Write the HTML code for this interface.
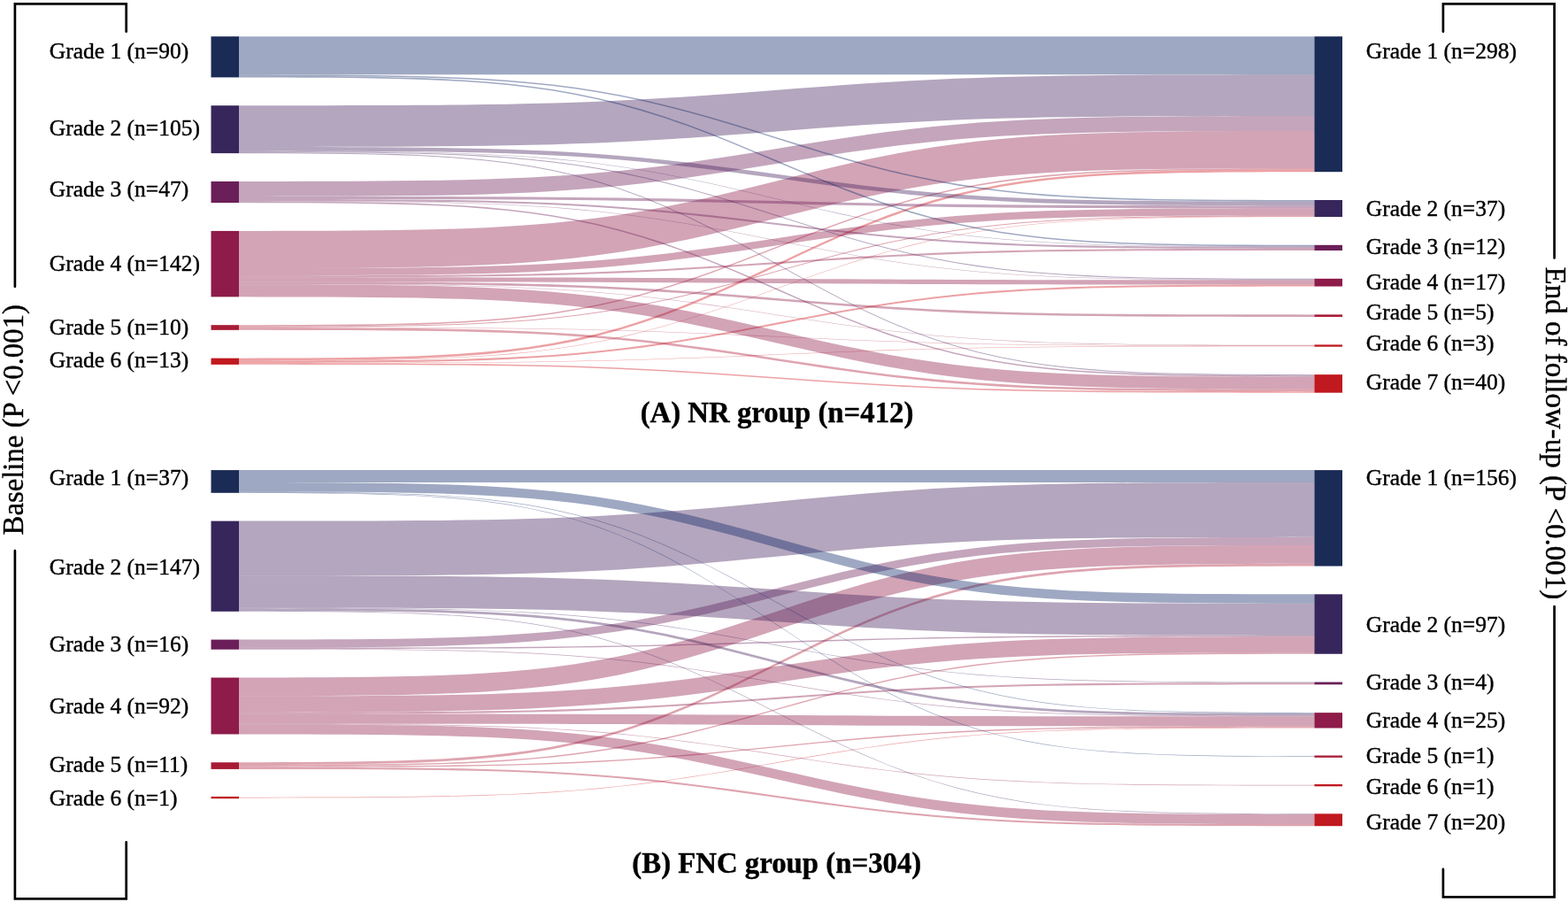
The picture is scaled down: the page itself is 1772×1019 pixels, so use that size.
<!DOCTYPE html>
<html lang="en">
<head>
<meta charset="utf-8">
<title>Sankey diagram: grade transitions, NR and FNC groups</title>
<style>
html,body{margin:0;padding:0;background:#fff;}
body{width:1772px;height:1019px;overflow:hidden;}
svg{display:block;}
text{font-family:"Liberation Serif",serif;fill:#000;stroke:#000;stroke-width:0.4px;stroke-linejoin:round;}
.lab text{font-size:25.5px;}
.ttl{font-size:32.8px;font-weight:bold;}
.vt{font-size:32.5px;}
</style>
</head>
<body>
<svg width="1772" height="1019" viewBox="0 0 1772 1019">
<rect width="1772" height="1019" fill="#fff"/>
<!-- panel A -->
<g fill-opacity="0.4" stroke="none">
<path d="M270,410.31L295.32,410.32L320.64,410.33L345.96,410.35L371.28,410.38L396.6,410.42L421.93,410.48L447.25,410.56L472.57,410.69L497.89,410.85L523.21,411.07L548.53,411.37L573.85,411.75L599.17,412.23L624.49,412.83L649.81,413.57L675.13,414.44L700.45,415.47L725.78,416.64L751.1,417.97L776.42,419.43L801.74,421.01L827.06,422.69L852.38,424.44L877.7,426.22L903.02,428.01L928.34,429.76L953.66,431.44L978.98,433.02L1004.3,434.48L1029.62,435.81L1054.95,436.98L1080.27,438.01L1105.59,438.88L1130.91,439.62L1156.23,440.22L1181.55,440.7L1206.87,441.08L1232.19,441.38L1257.51,441.6L1282.83,441.76L1308.15,441.89L1333.48,441.97L1358.8,442.03L1384.12,442.07L1409.44,442.1L1434.76,442.12L1460.08,442.13L1485.4,442.14L1485.4,443.68L1460.08,443.67L1434.76,443.66L1409.44,443.64L1384.12,443.61L1358.8,443.57L1333.48,443.51L1308.15,443.43L1282.83,443.3L1257.51,443.14L1232.19,442.92L1206.87,442.62L1181.55,442.24L1156.23,441.76L1130.91,441.16L1105.59,440.42L1080.27,439.55L1054.95,438.52L1029.62,437.35L1004.3,436.02L978.98,434.56L953.66,432.98L928.34,431.3L903.02,429.55L877.7,427.77L852.38,425.98L827.06,424.23L801.74,422.55L776.42,420.97L751.1,419.51L725.78,418.18L700.45,417.01L675.13,415.98L649.81,415.11L624.49,414.37L599.17,413.77L573.85,413.29L548.53,412.91L523.21,412.61L497.89,412.39L472.57,412.23L447.25,412.1L421.93,412.02L396.6,411.96L371.28,411.92L345.96,411.89L320.64,411.87L295.32,411.86L270,411.85Z" fill="#d0151c"/>
<path d="M270,409.8L295.32,409.79L320.64,409.78L345.96,409.77L371.28,409.76L396.6,409.73L421.93,409.7L447.25,409.64L472.57,409.57L497.89,409.47L523.21,409.34L548.53,409.16L573.85,408.94L599.17,408.65L624.49,408.29L649.81,407.85L675.13,407.33L700.45,406.72L725.78,406.02L751.1,405.23L776.42,404.35L801.74,403.41L827.06,402.41L852.38,401.36L877.7,400.3L903.02,399.24L928.34,398.19L953.66,397.19L978.98,396.25L1004.3,395.37L1029.62,394.58L1054.95,393.88L1080.27,393.27L1105.59,392.75L1130.91,392.31L1156.23,391.95L1181.55,391.66L1206.87,391.43L1232.19,391.26L1257.51,391.13L1282.83,391.03L1308.15,390.95L1333.48,390.9L1358.8,390.87L1384.12,390.84L1409.44,390.83L1434.76,390.81L1460.08,390.81L1485.4,390.8L1485.4,391.32L1460.08,391.32L1434.76,391.33L1409.44,391.34L1384.12,391.36L1358.8,391.38L1333.48,391.42L1308.15,391.47L1282.83,391.54L1257.51,391.64L1232.19,391.77L1206.87,391.95L1181.55,392.18L1156.23,392.46L1130.91,392.82L1105.59,393.26L1080.27,393.78L1054.95,394.39L1029.62,395.09L1004.3,395.89L978.98,396.76L953.66,397.7L928.34,398.71L903.02,399.75L877.7,400.81L852.38,401.88L827.06,402.92L801.74,403.92L776.42,404.87L751.1,405.74L725.78,406.53L700.45,407.23L675.13,407.84L649.81,408.37L624.49,408.8L599.17,409.16L573.85,409.45L548.53,409.68L523.21,409.85L497.89,409.99L472.57,410.09L447.25,410.16L421.93,410.21L396.6,410.25L371.28,410.27L345.96,410.29L320.64,410.3L295.32,410.31L270,410.31Z" fill="#d0151c"/>
<path d="M270,407.74L295.32,407.72L320.64,407.69L345.96,407.64L371.28,407.56L396.6,407.45L421.93,407.29L447.25,407.05L472.57,406.73L497.89,406.28L523.21,405.67L548.53,404.87L573.85,403.84L599.17,402.53L624.49,400.9L649.81,398.92L675.13,396.55L700.45,393.77L725.78,390.58L751.1,386.99L776.42,383.03L801.74,378.74L827.06,374.19L852.38,369.45L877.7,364.62L903.02,359.79L928.34,355.05L953.66,350.5L978.98,346.21L1004.3,342.25L1029.62,338.65L1054.95,335.47L1080.27,332.69L1105.59,330.32L1130.91,328.34L1156.23,326.71L1181.55,325.4L1206.87,324.37L1232.19,323.57L1257.51,322.96L1282.83,322.51L1308.15,322.19L1333.48,321.95L1358.8,321.79L1384.12,321.67L1409.44,321.6L1434.76,321.55L1460.08,321.52L1485.4,321.5L1485.4,323.55L1460.08,323.57L1434.76,323.6L1409.44,323.65L1384.12,323.73L1358.8,323.84L1333.48,324L1308.15,324.24L1282.83,324.57L1257.51,325.02L1232.19,325.62L1206.87,326.42L1181.55,327.45L1156.23,328.76L1130.91,330.39L1105.59,332.37L1080.27,334.74L1054.95,337.52L1029.62,340.71L1004.3,344.3L978.98,348.26L953.66,352.55L928.34,357.11L903.02,361.84L877.7,366.67L852.38,371.5L827.06,376.24L801.74,380.79L776.42,385.08L751.1,389.05L725.78,392.64L700.45,395.83L675.13,398.6L649.81,400.97L624.49,402.96L599.17,404.58L573.85,405.89L548.53,406.93L523.21,407.72L497.89,408.33L472.57,408.78L447.25,409.11L421.93,409.34L396.6,409.51L371.28,409.62L345.96,409.69L320.64,409.74L295.32,409.78L270,409.8Z" fill="#d0151c"/>
<path d="M270,407.23L295.32,407.19L320.64,407.13L345.96,407.04L371.28,406.89L396.6,406.68L421.93,406.37L447.25,405.93L472.57,405.31L497.89,404.46L523.21,403.32L548.53,401.81L573.85,399.86L599.17,397.39L624.49,394.32L649.81,390.58L675.13,386.11L700.45,380.87L725.78,374.85L751.1,368.08L776.42,360.6L801.74,352.5L827.06,343.91L852.38,334.97L877.7,325.86L903.02,316.74L928.34,307.81L953.66,299.22L978.98,291.12L1004.3,283.64L1029.62,276.87L1054.95,270.85L1080.27,265.61L1105.59,261.14L1130.91,257.4L1156.23,254.32L1181.55,251.85L1206.87,249.91L1232.19,248.4L1257.51,247.26L1282.83,246.41L1308.15,245.79L1333.48,245.35L1358.8,245.04L1384.12,244.83L1409.44,244.68L1434.76,244.59L1460.08,244.53L1485.4,244.49L1485.4,245L1460.08,245.04L1434.76,245.1L1409.44,245.2L1384.12,245.34L1358.8,245.55L1333.48,245.86L1308.15,246.3L1282.83,246.92L1257.51,247.77L1232.19,248.91L1206.87,250.42L1181.55,252.37L1156.23,254.84L1130.91,257.91L1105.59,261.65L1080.27,266.12L1054.95,271.36L1029.62,277.38L1004.3,284.15L978.98,291.63L953.66,299.73L928.34,308.32L903.02,317.26L877.7,326.37L852.38,335.49L827.06,344.43L801.74,353.02L776.42,361.11L751.1,368.59L725.78,375.37L700.45,381.38L675.13,386.62L649.81,391.09L624.49,394.84L599.17,397.91L573.85,400.38L548.53,402.33L523.21,403.83L497.89,404.97L472.57,405.82L447.25,406.44L421.93,406.88L396.6,407.19L371.28,407.41L345.96,407.55L320.64,407.64L295.32,407.7L270,407.74Z" fill="#d0151c"/>
<path d="M270,404.66L295.32,404.61L320.64,404.53L345.96,404.41L371.28,404.22L396.6,403.94L421.93,403.54L447.25,402.96L472.57,402.15L497.89,401.04L523.21,399.54L548.53,397.57L573.85,395.02L599.17,391.79L624.49,387.77L649.81,382.87L675.13,377.01L700.45,370.15L725.78,362.28L751.1,353.41L776.42,343.62L801.74,333.02L827.06,321.77L852.38,310.07L877.7,298.14L903.02,286.2L928.34,274.5L953.66,263.26L978.98,252.66L1004.3,242.87L1029.62,234L1054.95,226.12L1080.27,219.26L1105.59,213.41L1130.91,208.51L1156.23,204.49L1181.55,201.25L1206.87,198.7L1232.19,196.73L1257.51,195.24L1282.83,194.12L1308.15,193.32L1333.48,192.74L1358.8,192.33L1384.12,192.05L1409.44,191.87L1434.76,191.74L1460.08,191.66L1485.4,191.61L1485.4,194.18L1460.08,194.23L1434.76,194.31L1409.44,194.43L1384.12,194.62L1358.8,194.9L1333.48,195.3L1308.15,195.88L1282.83,196.69L1257.51,197.8L1232.19,199.3L1206.87,201.27L1181.55,203.82L1156.23,207.05L1130.91,211.08L1105.59,215.97L1080.27,221.83L1054.95,228.69L1029.62,236.56L1004.3,245.43L978.98,255.23L953.66,265.82L928.34,277.07L903.02,288.77L877.7,300.7L852.38,312.64L827.06,324.34L801.74,335.58L776.42,346.18L751.1,355.97L725.78,364.84L700.45,372.72L675.13,379.58L649.81,385.43L624.49,390.33L599.17,394.35L573.85,397.59L548.53,400.14L523.21,402.11L497.89,403.61L472.57,404.72L447.25,405.53L421.93,406.1L396.6,406.51L371.28,406.79L345.96,406.98L320.64,407.1L295.32,407.18L270,407.23Z" fill="#d0151c"/>
<path d="M270,370.27L295.32,370.28L320.64,370.31L345.96,370.35L371.28,370.41L396.6,370.5L421.93,370.63L447.25,370.82L472.57,371.08L497.89,371.45L523.21,371.93L548.53,372.57L573.85,373.4L599.17,374.46L624.49,375.76L649.81,377.36L675.13,379.26L700.45,381.49L725.78,384.05L751.1,386.94L776.42,390.13L801.74,393.57L827.06,397.23L852.38,401.04L877.7,404.92L903.02,408.8L928.34,412.61L953.66,416.27L978.98,419.71L1004.3,422.9L1029.62,425.78L1054.95,428.35L1080.27,430.58L1105.59,432.48L1130.91,434.08L1156.23,435.38L1181.55,436.44L1206.87,437.27L1232.19,437.91L1257.51,438.39L1282.83,438.76L1308.15,439.02L1333.48,439.21L1358.8,439.34L1384.12,439.43L1409.44,439.49L1434.76,439.53L1460.08,439.56L1485.4,439.57L1485.4,442.14L1460.08,442.12L1434.76,442.1L1409.44,442.06L1384.12,442L1358.8,441.91L1333.48,441.77L1308.15,441.59L1282.83,441.32L1257.51,440.96L1232.19,440.47L1206.87,439.83L1181.55,439L1156.23,437.95L1130.91,436.64L1105.59,435.05L1080.27,433.14L1054.95,430.91L1029.62,428.35L1004.3,425.47L978.98,422.28L953.66,418.83L928.34,415.17L903.02,411.37L877.7,407.49L852.38,403.6L827.06,399.8L801.74,396.14L776.42,392.69L751.1,389.51L725.78,386.62L700.45,384.06L675.13,381.83L649.81,379.92L624.49,378.33L599.17,377.02L573.85,375.97L548.53,375.14L523.21,374.5L497.89,374.01L472.57,373.65L447.25,373.39L421.93,373.2L396.6,373.07L371.28,372.98L345.96,372.92L320.64,372.88L295.32,372.85L270,372.83Z" fill="#ac1c38"/>
<path d="M270,369.75L295.32,369.76L320.64,369.77L345.96,369.78L371.28,369.8L396.6,369.82L421.93,369.86L447.25,369.92L472.57,370L497.89,370.1L523.21,370.25L548.53,370.44L573.85,370.68L599.17,370.99L624.49,371.38L649.81,371.85L675.13,372.42L700.45,373.08L725.78,373.84L751.1,374.69L776.42,375.64L801.74,376.66L827.06,377.74L852.38,378.87L877.7,380.02L903.02,381.17L928.34,382.3L953.66,383.38L978.98,384.4L1004.3,385.35L1029.62,386.2L1054.95,386.96L1080.27,387.62L1105.59,388.19L1130.91,388.66L1156.23,389.05L1181.55,389.36L1206.87,389.61L1232.19,389.8L1257.51,389.94L1282.83,390.05L1308.15,390.13L1333.48,390.18L1358.8,390.22L1384.12,390.25L1409.44,390.26L1434.76,390.28L1460.08,390.28L1485.4,390.29L1485.4,390.8L1460.08,390.8L1434.76,390.79L1409.44,390.78L1384.12,390.76L1358.8,390.73L1333.48,390.69L1308.15,390.64L1282.83,390.56L1257.51,390.45L1232.19,390.31L1206.87,390.12L1181.55,389.87L1156.23,389.56L1130.91,389.17L1105.59,388.7L1080.27,388.14L1054.95,387.48L1029.62,386.72L1004.3,385.86L978.98,384.92L953.66,383.9L928.34,382.81L903.02,381.68L877.7,380.53L852.38,379.38L827.06,378.26L801.74,377.17L776.42,376.15L751.1,375.21L725.78,374.35L700.45,373.59L675.13,372.93L649.81,372.37L624.49,371.9L599.17,371.51L573.85,371.2L548.53,370.95L523.21,370.76L497.89,370.62L472.57,370.51L447.25,370.43L421.93,370.37L396.6,370.34L371.28,370.31L345.96,370.29L320.64,370.28L295.32,370.27L270,370.27Z" fill="#ac1c38"/>
<path d="M270,368.73L295.32,368.7L320.64,368.65L345.96,368.58L371.28,368.47L396.6,368.3L421.93,368.06L447.25,367.72L472.57,367.25L497.89,366.6L523.21,365.72L548.53,364.56L573.85,363.06L599.17,361.16L624.49,358.79L649.81,355.91L675.13,352.47L700.45,348.44L725.78,343.81L751.1,338.59L776.42,332.83L801.74,326.6L827.06,319.99L852.38,313.11L877.7,306.09L903.02,299.08L928.34,292.2L953.66,285.59L978.98,279.36L1004.3,273.6L1029.62,268.38L1054.95,263.75L1080.27,259.72L1105.59,256.28L1130.91,253.4L1156.23,251.03L1181.55,249.13L1206.87,247.63L1232.19,246.47L1257.51,245.59L1282.83,244.94L1308.15,244.46L1333.48,244.12L1358.8,243.89L1384.12,243.72L1409.44,243.61L1434.76,243.54L1460.08,243.49L1485.4,243.46L1485.4,244.49L1460.08,244.52L1434.76,244.57L1409.44,244.64L1384.12,244.75L1358.8,244.91L1333.48,245.15L1308.15,245.49L1282.83,245.97L1257.51,246.62L1232.19,247.5L1206.87,248.66L1181.55,250.16L1156.23,252.06L1130.91,254.42L1105.59,257.3L1080.27,260.75L1054.95,264.78L1029.62,269.41L1004.3,274.62L978.98,280.38L953.66,286.61L928.34,293.23L903.02,300.1L877.7,307.12L852.38,314.14L827.06,321.02L801.74,327.63L776.42,333.86L751.1,339.62L725.78,344.83L700.45,349.46L675.13,353.5L649.81,356.94L624.49,359.82L599.17,362.18L573.85,364.08L548.53,365.58L523.21,366.74L497.89,367.62L472.57,368.28L447.25,368.75L421.93,369.09L396.6,369.33L371.28,369.49L345.96,369.6L320.64,369.68L295.32,369.72L270,369.75Z" fill="#ac1c38"/>
<path d="M270,367.19L295.32,367.14L320.64,367.08L345.96,366.97L371.28,366.82L396.6,366.59L421.93,366.25L447.25,365.77L472.57,365.1L497.89,364.17L523.21,362.93L548.53,361.29L573.85,359.17L599.17,356.48L624.49,353.14L649.81,349.07L675.13,344.2L700.45,338.5L725.78,331.95L751.1,324.58L776.42,316.44L801.74,307.63L827.06,298.28L852.38,288.55L877.7,278.63L903.02,268.71L928.34,258.98L953.66,249.63L978.98,240.82L1004.3,232.68L1029.62,225.31L1054.95,218.76L1080.27,213.06L1105.59,208.19L1130.91,204.12L1156.23,200.78L1181.55,198.09L1206.87,195.97L1232.19,194.33L1257.51,193.08L1282.83,192.16L1308.15,191.49L1333.48,191.01L1358.8,190.67L1384.12,190.44L1409.44,190.28L1434.76,190.18L1460.08,190.11L1485.4,190.07L1485.4,191.61L1460.08,191.65L1434.76,191.72L1409.44,191.82L1384.12,191.98L1358.8,192.21L1333.48,192.55L1308.15,193.03L1282.83,193.7L1257.51,194.62L1232.19,195.87L1206.87,197.51L1181.55,199.63L1156.23,202.32L1130.91,205.66L1105.59,209.73L1080.27,214.6L1054.95,220.3L1029.62,226.85L1004.3,234.22L978.98,242.36L953.66,251.17L928.34,260.52L903.02,270.25L877.7,280.17L852.38,290.09L827.06,299.82L801.74,309.17L776.42,317.98L751.1,326.12L725.78,333.49L700.45,340.04L675.13,345.74L649.81,350.61L624.49,354.68L599.17,358.02L573.85,360.71L548.53,362.83L523.21,364.47L497.89,365.71L472.57,366.64L447.25,367.31L421.93,367.79L396.6,368.13L371.28,368.36L345.96,368.51L320.64,368.62L295.32,368.68L270,368.73Z" fill="#ac1c38"/>
<path d="M270,321.5L295.32,321.52L320.64,321.56L345.96,321.62L371.28,321.71L396.6,321.85L421.93,322.05L447.25,322.33L472.57,322.73L497.89,323.27L523.21,324L548.53,324.97L573.85,326.21L599.17,327.79L624.49,329.76L649.81,332.16L675.13,335.02L700.45,338.38L725.78,342.23L751.1,346.57L776.42,351.36L801.74,356.54L827.06,362.04L852.38,367.77L877.7,373.6L903.02,379.44L928.34,385.17L953.66,390.67L978.98,395.85L1004.3,400.64L1029.62,404.98L1054.95,408.83L1080.27,412.19L1105.59,415.05L1130.91,417.45L1156.23,419.41L1181.55,421L1206.87,422.24L1232.19,423.21L1257.51,423.94L1282.83,424.48L1308.15,424.88L1333.48,425.16L1358.8,425.36L1384.12,425.5L1409.44,425.59L1434.76,425.65L1460.08,425.69L1485.4,425.71L1485.4,439.57L1460.08,439.55L1434.76,439.51L1409.44,439.45L1384.12,439.36L1358.8,439.22L1333.48,439.02L1308.15,438.74L1282.83,438.34L1257.51,437.8L1232.19,437.07L1206.87,436.1L1181.55,434.86L1156.23,433.27L1130.91,431.31L1105.59,428.91L1080.27,426.05L1054.95,422.69L1029.62,418.84L1004.3,414.5L978.98,409.71L953.66,404.53L928.34,399.03L903.02,393.3L877.7,387.46L852.38,381.63L827.06,375.9L801.74,370.4L776.42,365.22L751.1,360.43L725.78,356.09L700.45,352.24L675.13,348.88L649.81,346.02L624.49,343.62L599.17,341.66L573.85,340.07L548.53,338.83L523.21,337.86L497.89,337.13L472.57,336.59L447.25,336.19L421.93,335.91L396.6,335.71L371.28,335.57L345.96,335.48L320.64,335.42L295.32,335.38L270,335.36Z" fill="#8e1b49"/>
<path d="M270,320.98L295.32,321L320.64,321.02L345.96,321.06L371.28,321.13L396.6,321.21L421.93,321.35L447.25,321.53L472.57,321.79L497.89,322.15L523.21,322.64L548.53,323.27L573.85,324.1L599.17,325.14L624.49,326.44L649.81,328.02L675.13,329.91L700.45,332.13L725.78,334.67L751.1,337.53L776.42,340.69L801.74,344.12L827.06,347.75L852.38,351.53L877.7,355.38L903.02,359.23L928.34,363.01L953.66,366.64L978.98,370.06L1004.3,373.23L1029.62,376.09L1054.95,378.63L1080.27,380.85L1105.59,382.74L1130.91,384.32L1156.23,385.62L1181.55,386.66L1206.87,387.49L1232.19,388.12L1257.51,388.61L1282.83,388.96L1308.15,389.23L1333.48,389.41L1358.8,389.54L1384.12,389.63L1409.44,389.69L1434.76,389.73L1460.08,389.76L1485.4,389.78L1485.4,390.29L1460.08,390.27L1434.76,390.25L1409.44,390.21L1384.12,390.15L1358.8,390.06L1333.48,389.93L1308.15,389.74L1282.83,389.48L1257.51,389.12L1232.19,388.64L1206.87,388L1181.55,387.18L1156.23,386.13L1130.91,384.83L1105.59,383.25L1080.27,381.36L1054.95,379.15L1029.62,376.6L1004.3,373.74L978.98,370.58L953.66,367.16L928.34,363.52L903.02,359.75L877.7,355.89L852.38,352.04L827.06,348.26L801.74,344.63L776.42,341.21L751.1,338.05L725.78,335.18L700.45,332.64L675.13,330.42L649.81,328.53L624.49,326.95L599.17,325.65L573.85,324.61L548.53,323.79L523.21,323.15L497.89,322.67L472.57,322.31L447.25,322.05L421.93,321.86L396.6,321.73L371.28,321.64L345.96,321.58L320.64,321.54L295.32,321.51L270,321.5Z" fill="#8e1b49"/>
<path d="M270,318.42L295.32,318.42L320.64,318.44L345.96,318.46L371.28,318.49L396.6,318.54L421.93,318.61L447.25,318.71L472.57,318.85L497.89,319.04L523.21,319.3L548.53,319.65L573.85,320.09L599.17,320.65L624.49,321.35L649.81,322.2L675.13,323.21L700.45,324.4L725.78,325.77L751.1,327.31L776.42,329.01L801.74,330.85L827.06,332.8L852.38,334.83L877.7,336.9L903.02,338.97L928.34,341L953.66,342.95L978.98,344.79L1004.3,346.49L1029.62,348.03L1054.95,349.39L1080.27,350.58L1105.59,351.6L1130.91,352.45L1156.23,353.15L1181.55,353.71L1206.87,354.15L1232.19,354.49L1257.51,354.75L1282.83,354.94L1308.15,355.08L1333.48,355.18L1358.8,355.25L1384.12,355.3L1409.44,355.34L1434.76,355.36L1460.08,355.37L1485.4,355.38L1485.4,357.95L1460.08,357.94L1434.76,357.92L1409.44,357.9L1384.12,357.87L1358.8,357.82L1333.48,357.75L1308.15,357.65L1282.83,357.51L1257.51,357.32L1232.19,357.06L1206.87,356.72L1181.55,356.27L1156.23,355.71L1130.91,355.01L1105.59,354.16L1080.27,353.15L1054.95,351.96L1029.62,350.59L1004.3,349.05L978.98,347.35L953.66,345.52L928.34,343.56L903.02,341.53L877.7,339.46L852.38,337.39L827.06,335.36L801.74,333.41L776.42,331.57L751.1,329.88L725.78,328.34L700.45,326.97L675.13,325.78L649.81,324.76L624.49,323.91L599.17,323.22L573.85,322.66L548.53,322.21L523.21,321.87L497.89,321.61L472.57,321.42L447.25,321.28L421.93,321.18L396.6,321.11L371.28,321.06L345.96,321.03L320.64,321.01L295.32,320.99L270,320.98Z" fill="#8e1b49"/>
<path d="M270,313.28L295.32,313.28L320.64,313.28L345.96,313.29L371.28,313.29L396.6,313.29L421.93,313.3L447.25,313.31L472.57,313.32L497.89,313.33L523.21,313.36L548.53,313.38L573.85,313.42L599.17,313.47L624.49,313.53L649.81,313.6L675.13,313.68L700.45,313.78L725.78,313.9L751.1,314.02L776.42,314.16L801.74,314.32L827.06,314.48L852.38,314.65L877.7,314.82L903.02,314.99L928.34,315.16L953.66,315.33L978.98,315.48L1004.3,315.62L1029.62,315.75L1054.95,315.86L1080.27,315.96L1105.59,316.05L1130.91,316.12L1156.23,316.18L1181.55,316.22L1206.87,316.26L1232.19,316.29L1257.51,316.31L1282.83,316.33L1308.15,316.34L1333.48,316.35L1358.8,316.35L1384.12,316.36L1409.44,316.36L1434.76,316.36L1460.08,316.36L1485.4,316.36L1485.4,321.5L1460.08,321.5L1434.76,321.49L1409.44,321.49L1384.12,321.49L1358.8,321.49L1333.48,321.48L1308.15,321.47L1282.83,321.46L1257.51,321.44L1232.19,321.42L1206.87,321.39L1181.55,321.36L1156.23,321.31L1130.91,321.25L1105.59,321.18L1080.27,321.1L1054.95,321L1029.62,320.88L1004.3,320.75L978.98,320.61L953.66,320.46L928.34,320.3L903.02,320.13L877.7,319.96L852.38,319.78L827.06,319.61L801.74,319.45L776.42,319.3L751.1,319.16L725.78,319.03L700.45,318.91L675.13,318.82L649.81,318.73L624.49,318.66L599.17,318.6L573.85,318.56L548.53,318.52L523.21,318.49L497.89,318.47L472.57,318.45L447.25,318.44L421.93,318.43L396.6,318.43L371.28,318.42L345.96,318.42L320.64,318.42L295.32,318.42L270,318.42Z" fill="#8e1b49"/>
<path d="M270,311.23L295.32,311.22L320.64,311.21L345.96,311.19L371.28,311.17L396.6,311.13L421.93,311.07L447.25,310.99L472.57,310.87L497.89,310.71L523.21,310.5L548.53,310.22L573.85,309.86L599.17,309.4L624.49,308.83L649.81,308.13L675.13,307.3L700.45,306.32L725.78,305.2L751.1,303.94L776.42,302.55L801.74,301.04L827.06,299.44L852.38,297.78L877.7,296.08L903.02,294.39L928.34,292.72L953.66,291.12L978.98,289.62L1004.3,288.23L1029.62,286.97L1054.95,285.85L1080.27,284.87L1105.59,284.04L1130.91,283.34L1156.23,282.77L1181.55,282.31L1206.87,281.95L1232.19,281.67L1257.51,281.45L1282.83,281.3L1308.15,281.18L1333.48,281.1L1358.8,281.04L1384.12,281L1409.44,280.98L1434.76,280.96L1460.08,280.95L1485.4,280.94L1485.4,282.99L1460.08,283L1434.76,283.01L1409.44,283.03L1384.12,283.06L1358.8,283.09L1333.48,283.15L1308.15,283.23L1282.83,283.35L1257.51,283.51L1232.19,283.72L1206.87,284L1181.55,284.36L1156.23,284.82L1130.91,285.39L1105.59,286.09L1080.27,286.92L1054.95,287.9L1029.62,289.02L1004.3,290.28L978.98,291.67L953.66,293.18L928.34,294.78L903.02,296.44L877.7,298.14L852.38,299.83L827.06,301.5L801.74,303.1L776.42,304.6L751.1,306L725.78,307.26L700.45,308.38L675.13,309.35L649.81,310.18L624.49,310.88L599.17,311.45L573.85,311.91L548.53,312.27L523.21,312.55L497.89,312.77L472.57,312.92L447.25,313.04L421.93,313.12L396.6,313.18L371.28,313.22L345.96,313.25L320.64,313.26L295.32,313.28L270,313.28Z" fill="#8e1b49"/>
<path d="M270,303.02L295.32,303L320.64,302.97L345.96,302.93L371.28,302.87L396.6,302.79L421.93,302.66L447.25,302.47L472.57,302.22L497.89,301.86L523.21,301.39L548.53,300.76L573.85,299.95L599.17,298.92L624.49,297.64L649.81,296.08L675.13,294.22L700.45,292.04L725.78,289.53L751.1,286.71L776.42,283.6L801.74,280.23L827.06,276.65L852.38,272.93L877.7,269.13L903.02,265.34L928.34,261.61L953.66,258.04L978.98,254.67L1004.3,251.55L1029.62,248.73L1054.95,246.23L1080.27,244.04L1105.59,242.18L1130.91,240.62L1156.23,239.34L1181.55,238.32L1206.87,237.5L1232.19,236.88L1257.51,236.4L1282.83,236.05L1308.15,235.79L1333.48,235.61L1358.8,235.48L1384.12,235.39L1409.44,235.33L1434.76,235.29L1460.08,235.26L1485.4,235.25L1485.4,243.46L1460.08,243.48L1434.76,243.5L1409.44,243.54L1384.12,243.6L1358.8,243.69L1333.48,243.82L1308.15,244L1282.83,244.26L1257.51,244.61L1232.19,245.09L1206.87,245.72L1181.55,246.53L1156.23,247.56L1130.91,248.84L1105.59,250.4L1080.27,252.26L1054.95,254.44L1029.62,256.94L1004.3,259.77L978.98,262.88L953.66,266.25L928.34,269.83L903.02,273.55L877.7,277.35L852.38,281.14L827.06,284.86L801.74,288.44L776.42,291.81L751.1,294.93L725.78,297.75L700.45,300.25L675.13,302.43L649.81,304.3L624.49,305.85L599.17,307.13L573.85,308.16L548.53,308.97L523.21,309.6L497.89,310.08L472.57,310.43L447.25,310.69L421.93,310.87L396.6,311L371.28,311.09L345.96,311.15L320.64,311.19L295.32,311.21L270,311.23Z" fill="#8e1b49"/>
<path d="M270,260.92L295.32,260.89L320.64,260.85L345.96,260.79L371.28,260.69L396.6,260.54L421.93,260.32L447.25,260.02L472.57,259.59L497.89,259L523.21,258.21L548.53,257.16L573.85,255.81L599.17,254.09L624.49,251.96L649.81,249.37L675.13,246.26L700.45,242.63L725.78,238.45L751.1,233.75L776.42,228.56L801.74,222.94L827.06,216.98L852.38,210.78L877.7,204.45L903.02,198.12L928.34,191.92L953.66,185.96L978.98,180.34L1004.3,175.15L1029.62,170.45L1054.95,166.27L1080.27,162.64L1105.59,159.53L1130.91,156.93L1156.23,154.8L1181.55,153.09L1206.87,151.74L1232.19,150.69L1257.51,149.9L1282.83,149.31L1308.15,148.88L1333.48,148.57L1358.8,148.36L1384.12,148.21L1409.44,148.11L1434.76,148.05L1460.08,148L1485.4,147.98L1485.4,190.07L1460.08,190.1L1434.76,190.14L1409.44,190.21L1384.12,190.31L1358.8,190.45L1333.48,190.67L1308.15,190.97L1282.83,191.4L1257.51,191.99L1232.19,192.79L1206.87,193.83L1181.55,195.18L1156.23,196.9L1130.91,199.03L1105.59,201.63L1080.27,204.73L1054.95,208.37L1029.62,212.54L1004.3,217.24L978.98,222.43L953.66,228.05L928.34,234.01L903.02,240.22L877.7,246.54L852.38,252.87L827.06,259.07L801.74,265.03L776.42,270.65L751.1,275.84L725.78,280.55L700.45,284.72L675.13,288.36L649.81,291.46L624.49,294.06L599.17,296.19L573.85,297.9L548.53,299.26L523.21,300.3L497.89,301.09L472.57,301.68L447.25,302.11L421.93,302.42L396.6,302.63L371.28,302.78L345.96,302.88L320.64,302.95L295.32,302.99L270,303.02Z" fill="#8e1b49"/>
<path d="M270,227.55L295.32,227.6L320.64,227.67L345.96,227.79L371.28,227.96L396.6,228.21L421.93,228.59L447.25,229.12L472.57,229.87L497.89,230.9L523.21,232.28L548.53,234.1L573.85,236.45L599.17,239.43L624.49,243.14L649.81,247.67L675.13,253.07L700.45,259.4L725.78,266.67L751.1,274.85L776.42,283.89L801.74,293.67L827.06,304.05L852.38,314.85L877.7,325.86L903.02,336.88L928.34,347.67L953.66,358.05L978.98,367.83L1004.3,376.87L1029.62,385.05L1054.95,392.32L1080.27,398.65L1105.59,404.06L1130.91,408.58L1156.23,412.29L1181.55,415.27L1206.87,417.63L1232.19,419.45L1257.51,420.83L1282.83,421.85L1308.15,422.6L1333.48,423.13L1358.8,423.51L1384.12,423.77L1409.44,423.94L1434.76,424.05L1460.08,424.13L1485.4,424.17L1485.4,425.71L1460.08,425.67L1434.76,425.59L1409.44,425.48L1384.12,425.31L1358.8,425.05L1333.48,424.67L1308.15,424.14L1282.83,423.39L1257.51,422.37L1232.19,420.99L1206.87,419.17L1181.55,416.81L1156.23,413.83L1130.91,410.12L1105.59,405.6L1080.27,400.19L1054.95,393.86L1029.62,386.59L1004.3,378.41L978.98,369.37L953.66,359.59L928.34,349.21L903.02,338.42L877.7,327.4L852.38,316.39L827.06,305.59L801.74,295.21L776.42,285.43L751.1,276.39L725.78,268.21L700.45,260.94L675.13,254.61L649.81,249.21L624.49,244.68L599.17,240.97L573.85,237.99L548.53,235.64L523.21,233.82L497.89,232.44L472.57,231.41L447.25,230.66L421.93,230.13L396.6,229.76L371.28,229.5L345.96,229.33L320.64,229.21L295.32,229.14L270,229.09Z" fill="#6b1f58"/>
<path d="M270,227.04L295.32,227.06L320.64,227.09L345.96,227.14L371.28,227.22L396.6,227.34L421.93,227.51L447.25,227.75L472.57,228.08L497.89,228.55L523.21,229.17L548.53,229.99L573.85,231.06L599.17,232.4L624.49,234.08L649.81,236.12L675.13,238.56L700.45,241.42L725.78,244.71L751.1,248.4L776.42,252.49L801.74,256.9L827.06,261.59L852.38,266.47L877.7,271.44L903.02,276.42L928.34,281.29L953.66,285.98L978.98,290.4L1004.3,294.48L1029.62,298.18L1054.95,301.46L1080.27,304.32L1105.59,306.76L1130.91,308.81L1156.23,310.48L1181.55,311.83L1206.87,312.89L1232.19,313.71L1257.51,314.34L1282.83,314.8L1308.15,315.14L1333.48,315.38L1358.8,315.55L1384.12,315.66L1409.44,315.74L1434.76,315.79L1460.08,315.83L1485.4,315.85L1485.4,316.36L1460.08,316.34L1434.76,316.31L1409.44,316.26L1384.12,316.18L1358.8,316.06L1333.48,315.89L1308.15,315.65L1282.83,315.31L1257.51,314.85L1232.19,314.23L1206.87,313.41L1181.55,312.34L1156.23,310.99L1130.91,309.32L1105.59,307.28L1080.27,304.84L1054.95,301.98L1029.62,298.69L1004.3,295L978.98,290.91L953.66,286.5L928.34,281.81L903.02,276.93L877.7,271.96L852.38,266.98L827.06,262.1L801.74,257.42L776.42,253L751.1,248.92L725.78,245.22L700.45,241.94L675.13,239.08L649.81,236.64L624.49,234.59L599.17,232.92L573.85,231.57L548.53,230.51L523.21,229.68L497.89,229.06L472.57,228.6L447.25,228.26L421.93,228.02L396.6,227.85L371.28,227.73L345.96,227.66L320.64,227.61L295.32,227.57L270,227.55Z" fill="#6b1f58"/>
<path d="M270,224.98L295.32,225L320.64,225.02L345.96,225.05L371.28,225.1L396.6,225.17L421.93,225.27L447.25,225.41L472.57,225.62L497.89,225.9L523.21,226.28L548.53,226.78L573.85,227.42L599.17,228.24L624.49,229.26L649.81,230.5L675.13,231.98L700.45,233.71L725.78,235.71L751.1,237.95L776.42,240.43L801.74,243.11L827.06,245.96L852.38,248.92L877.7,251.93L903.02,254.95L928.34,257.91L953.66,260.76L978.98,263.44L1004.3,265.92L1029.62,268.16L1054.95,270.15L1080.27,271.89L1105.59,273.37L1130.91,274.61L1156.23,275.63L1181.55,276.45L1206.87,277.09L1232.19,277.59L1257.51,277.97L1282.83,278.25L1308.15,278.45L1333.48,278.6L1358.8,278.7L1384.12,278.77L1409.44,278.82L1434.76,278.85L1460.08,278.87L1485.4,278.89L1485.4,280.94L1460.08,280.93L1434.76,280.91L1409.44,280.87L1384.12,280.83L1358.8,280.76L1333.48,280.65L1308.15,280.51L1282.83,280.3L1257.51,280.02L1232.19,279.64L1206.87,279.14L1181.55,278.5L1156.23,277.68L1130.91,276.66L1105.59,275.42L1080.27,273.94L1054.95,272.21L1029.62,270.22L1004.3,267.97L978.98,265.49L953.66,262.81L928.34,259.97L903.02,257.01L877.7,253.99L852.38,250.97L827.06,248.01L801.74,245.16L776.42,242.48L751.1,240L725.78,237.76L700.45,235.77L675.13,234.03L649.81,232.55L624.49,231.31L599.17,230.29L573.85,229.48L548.53,228.83L523.21,228.33L497.89,227.95L472.57,227.67L447.25,227.47L421.93,227.32L396.6,227.22L371.28,227.15L345.96,227.1L320.64,227.07L295.32,227.05L270,227.04Z" fill="#6b1f58"/>
<path d="M270,221.9L295.32,221.91L320.64,221.91L345.96,221.92L371.28,221.92L396.6,221.94L421.93,221.96L447.25,221.99L472.57,222.02L497.89,222.08L523.21,222.15L548.53,222.25L573.85,222.37L599.17,222.52L624.49,222.72L649.81,222.95L675.13,223.24L700.45,223.57L725.78,223.95L751.1,224.37L776.42,224.84L801.74,225.36L827.06,225.9L852.38,226.46L877.7,227.04L903.02,227.61L928.34,228.17L953.66,228.72L978.98,229.23L1004.3,229.7L1029.62,230.13L1054.95,230.51L1080.27,230.84L1105.59,231.12L1130.91,231.35L1156.23,231.55L1181.55,231.7L1206.87,231.83L1232.19,231.92L1257.51,231.99L1282.83,232.05L1308.15,232.09L1333.48,232.11L1358.8,232.13L1384.12,232.15L1409.44,232.16L1434.76,232.16L1460.08,232.17L1485.4,232.17L1485.4,235.25L1460.08,235.25L1434.76,235.24L1409.44,235.24L1384.12,235.23L1358.8,235.21L1333.48,235.19L1308.15,235.17L1282.83,235.13L1257.51,235.07L1232.19,235L1206.87,234.91L1181.55,234.78L1156.23,234.63L1130.91,234.43L1105.59,234.2L1080.27,233.92L1054.95,233.59L1029.62,233.21L1004.3,232.78L978.98,232.31L953.66,231.8L928.34,231.25L903.02,230.69L877.7,230.12L852.38,229.54L827.06,228.98L801.74,228.44L776.42,227.93L751.1,227.45L725.78,227.03L700.45,226.65L675.13,226.32L649.81,226.03L624.49,225.8L599.17,225.6L573.85,225.45L548.53,225.33L523.21,225.23L497.89,225.16L472.57,225.1L447.25,225.07L421.93,225.04L396.6,225.02L371.28,225.01L345.96,225L320.64,224.99L295.32,224.99L270,224.98Z" fill="#6b1f58"/>
<path d="M270,204.96L295.32,204.95L320.64,204.92L345.96,204.87L371.28,204.81L396.6,204.71L421.93,204.57L447.25,204.37L472.57,204.09L497.89,203.71L523.21,203.19L548.53,202.5L573.85,201.62L599.17,200.5L624.49,199.1L649.81,197.4L675.13,195.37L700.45,192.99L725.78,190.26L751.1,187.18L776.42,183.78L801.74,180.1L827.06,176.2L852.38,172.14L877.7,168L903.02,163.86L928.34,159.8L953.66,155.9L978.98,152.22L1004.3,148.82L1029.62,145.74L1054.95,143.01L1080.27,140.63L1105.59,138.6L1130.91,136.9L1156.23,135.5L1181.55,134.38L1206.87,133.5L1232.19,132.81L1257.51,132.29L1282.83,131.91L1308.15,131.63L1333.48,131.43L1358.8,131.29L1384.12,131.19L1409.44,131.12L1434.76,131.08L1460.08,131.05L1485.4,131.04L1485.4,147.98L1460.08,147.99L1434.76,148.02L1409.44,148.06L1384.12,148.13L1358.8,148.23L1333.48,148.37L1308.15,148.57L1282.83,148.85L1257.51,149.23L1232.19,149.75L1206.87,150.44L1181.55,151.32L1156.23,152.44L1130.91,153.84L1105.59,155.54L1080.27,157.57L1054.95,159.95L1029.62,162.68L1004.3,165.76L978.98,169.16L953.66,172.84L928.34,176.74L903.02,180.8L877.7,184.94L852.38,189.08L827.06,193.14L801.74,197.04L776.42,200.72L751.1,204.12L725.78,207.2L700.45,209.93L675.13,212.31L649.81,214.34L624.49,216.04L599.17,217.44L573.85,218.56L548.53,219.44L523.21,220.13L497.89,220.65L472.57,221.03L447.25,221.31L421.93,221.51L396.6,221.65L371.28,221.75L345.96,221.82L320.64,221.86L295.32,221.89L270,221.9Z" fill="#6b1f58"/>
<path d="M270,172.11L295.32,172.17L320.64,172.26L345.96,172.41L371.28,172.63L396.6,172.95L421.93,173.43L447.25,174.11L472.57,175.07L497.89,176.38L523.21,178.14L548.53,180.46L573.85,183.47L599.17,187.28L624.49,192.02L649.81,197.79L675.13,204.69L700.45,212.77L725.78,222.05L751.1,232.5L776.42,244.04L801.74,256.53L827.06,269.78L852.38,283.56L877.7,297.63L903.02,311.69L928.34,325.47L953.66,338.73L978.98,351.21L1004.3,362.75L1029.62,373.2L1054.95,382.48L1080.27,390.56L1105.59,397.46L1130.91,403.24L1156.23,407.97L1181.55,411.78L1206.87,414.79L1232.19,417.11L1257.51,418.88L1282.83,420.18L1308.15,421.14L1333.48,421.82L1358.8,422.3L1384.12,422.63L1409.44,422.85L1434.76,422.99L1460.08,423.09L1485.4,423.15L1485.4,424.17L1460.08,424.11L1434.76,424.02L1409.44,423.87L1384.12,423.65L1358.8,423.32L1333.48,422.85L1308.15,422.17L1282.83,421.21L1257.51,419.9L1232.19,418.14L1206.87,415.82L1181.55,412.81L1156.23,409L1130.91,404.26L1105.59,398.49L1080.27,391.59L1054.95,383.51L1029.62,374.23L1004.3,363.78L978.98,352.24L953.66,339.75L928.34,326.5L903.02,312.71L877.7,298.65L852.38,284.59L827.06,270.81L801.74,257.55L776.42,245.07L751.1,233.53L725.78,223.08L700.45,213.8L675.13,205.71L649.81,198.82L624.49,193.04L599.17,188.31L573.85,184.5L548.53,181.49L523.21,179.17L497.89,177.4L472.57,176.09L447.25,175.14L421.93,174.46L396.6,173.98L371.28,173.65L345.96,173.43L320.64,173.29L295.32,173.19L270,173.13Z" fill="#44205c"/>
<path d="M270,171.08L295.32,171.11L320.64,171.17L345.96,171.25L371.28,171.38L396.6,171.57L421.93,171.84L447.25,172.23L472.57,172.78L497.89,173.53L523.21,174.53L548.53,175.86L573.85,177.59L599.17,179.77L624.49,182.48L649.81,185.79L675.13,189.74L700.45,194.36L725.78,199.68L751.1,205.66L776.42,212.27L801.74,219.42L827.06,227.01L852.38,234.9L877.7,242.95L903.02,251L928.34,258.9L953.66,266.48L978.98,273.63L1004.3,280.24L1029.62,286.22L1054.95,291.54L1080.27,296.17L1105.59,300.12L1130.91,303.42L1156.23,306.13L1181.55,308.32L1206.87,310.04L1232.19,311.37L1257.51,312.38L1282.83,313.13L1308.15,313.67L1333.48,314.06L1358.8,314.34L1384.12,314.52L1409.44,314.65L1434.76,314.73L1460.08,314.79L1485.4,314.82L1485.4,315.85L1460.08,315.81L1434.76,315.76L1409.44,315.68L1384.12,315.55L1358.8,315.36L1333.48,315.09L1308.15,314.7L1282.83,314.15L1257.51,313.4L1232.19,312.39L1206.87,311.06L1181.55,309.34L1156.23,307.16L1130.91,304.45L1105.59,301.14L1080.27,297.19L1054.95,292.57L1029.62,287.25L1004.3,281.27L978.98,274.66L953.66,267.51L928.34,259.92L903.02,252.03L877.7,243.98L852.38,235.93L827.06,228.03L801.74,220.44L776.42,213.29L751.1,206.69L725.78,200.7L700.45,195.39L675.13,190.76L649.81,186.81L624.49,183.51L599.17,180.79L573.85,178.61L548.53,176.89L523.21,175.56L497.89,174.55L472.57,173.8L447.25,173.26L421.93,172.87L396.6,172.59L371.28,172.4L345.96,172.28L320.64,172.19L295.32,172.14L270,172.11Z" fill="#44205c"/>
<path d="M270,170.57L295.32,170.59L320.64,170.63L345.96,170.7L371.28,170.79L396.6,170.93L421.93,171.14L447.25,171.43L472.57,171.84L497.89,172.4L523.21,173.16L548.53,174.16L573.85,175.45L599.17,177.08L624.49,179.12L649.81,181.6L675.13,184.56L700.45,188.03L725.78,192.01L751.1,196.5L776.42,201.46L801.74,206.82L827.06,212.51L852.38,218.43L877.7,224.47L903.02,230.51L928.34,236.43L953.66,242.12L978.98,247.48L1004.3,252.44L1029.62,256.92L1054.95,260.91L1080.27,264.38L1105.59,267.34L1130.91,269.82L1156.23,271.86L1181.55,273.49L1206.87,274.78L1232.19,275.78L1257.51,276.54L1282.83,277.1L1308.15,277.51L1333.48,277.8L1358.8,278.01L1384.12,278.15L1409.44,278.24L1434.76,278.31L1460.08,278.35L1485.4,278.37L1485.4,278.89L1460.08,278.86L1434.76,278.82L1409.44,278.76L1384.12,278.66L1358.8,278.52L1333.48,278.32L1308.15,278.02L1282.83,277.61L1257.51,277.05L1232.19,276.29L1206.87,275.3L1181.55,274.01L1156.23,272.37L1130.91,270.34L1105.59,267.86L1080.27,264.89L1054.95,261.42L1029.62,257.44L1004.3,252.95L978.98,247.99L953.66,242.63L928.34,236.94L903.02,231.02L877.7,224.98L852.38,218.94L827.06,213.02L801.74,207.33L776.42,201.97L751.1,197.02L725.78,192.53L700.45,188.54L675.13,185.07L649.81,182.11L624.49,179.63L599.17,177.6L573.85,175.96L548.53,174.67L523.21,173.67L497.89,172.91L472.57,172.35L447.25,171.94L421.93,171.65L396.6,171.44L371.28,171.3L345.96,171.21L320.64,171.15L295.32,171.11L270,171.08Z" fill="#44205c"/>
<path d="M270,165.95L295.32,165.96L320.64,165.98L345.96,166.02L371.28,166.07L396.6,166.15L421.93,166.27L447.25,166.44L472.57,166.67L497.89,166.99L523.21,167.43L548.53,168L573.85,168.73L599.17,169.67L624.49,170.83L649.81,172.25L675.13,173.94L700.45,175.92L725.78,178.2L751.1,180.77L776.42,183.6L801.74,186.66L827.06,189.91L852.38,193.3L877.7,196.75L903.02,200.2L928.34,203.58L953.66,206.83L978.98,209.9L1004.3,212.73L1029.62,215.29L1054.95,217.57L1080.27,219.55L1105.59,221.25L1130.91,222.66L1156.23,223.83L1181.55,224.76L1206.87,225.5L1232.19,226.07L1257.51,226.5L1282.83,226.82L1308.15,227.06L1333.48,227.22L1358.8,227.34L1384.12,227.42L1409.44,227.47L1434.76,227.51L1460.08,227.53L1485.4,227.55L1485.4,232.17L1460.08,232.15L1434.76,232.13L1409.44,232.09L1384.12,232.04L1358.8,231.96L1333.48,231.84L1308.15,231.68L1282.83,231.44L1257.51,231.12L1232.19,230.69L1206.87,230.12L1181.55,229.38L1156.23,228.45L1130.91,227.28L1105.59,225.87L1080.27,224.17L1054.95,222.19L1029.62,219.91L1004.3,217.35L978.98,214.52L953.66,211.45L928.34,208.2L903.02,204.82L877.7,201.37L852.38,197.92L827.06,194.53L801.74,191.28L776.42,188.22L751.1,185.39L725.78,182.82L700.45,180.54L675.13,178.56L649.81,176.87L624.49,175.45L599.17,174.29L573.85,173.35L548.53,172.62L523.21,172.05L497.89,171.61L472.57,171.29L447.25,171.06L421.93,170.89L396.6,170.77L371.28,170.69L345.96,170.64L320.64,170.6L295.32,170.58L270,170.57Z" fill="#44205c"/>
<path d="M270,119.23L295.32,119.22L320.64,119.21L345.96,119.19L371.28,119.16L396.6,119.11L421.93,119.05L447.25,118.95L472.57,118.82L497.89,118.64L523.21,118.39L548.53,118.07L573.85,117.65L599.17,117.12L624.49,116.46L649.81,115.66L675.13,114.7L700.45,113.58L725.78,112.29L751.1,110.83L776.42,109.23L801.74,107.49L827.06,105.65L852.38,103.73L877.7,101.78L903.02,99.82L928.34,97.9L953.66,96.06L978.98,94.32L1004.3,92.72L1029.62,91.27L1054.95,89.98L1080.27,88.85L1105.59,87.89L1130.91,87.09L1156.23,86.43L1181.55,85.9L1206.87,85.48L1232.19,85.16L1257.51,84.92L1282.83,84.73L1308.15,84.6L1333.48,84.51L1358.8,84.44L1384.12,84.39L1409.44,84.36L1434.76,84.34L1460.08,84.33L1485.4,84.32L1485.4,131.04L1460.08,131.04L1434.76,131.06L1409.44,131.08L1384.12,131.11L1358.8,131.15L1333.48,131.22L1308.15,131.32L1282.83,131.45L1257.51,131.63L1232.19,131.88L1206.87,132.2L1181.55,132.62L1156.23,133.15L1130.91,133.8L1105.59,134.61L1080.27,135.57L1054.95,136.69L1029.62,137.98L1004.3,139.43L978.98,141.04L953.66,142.78L928.34,144.62L903.02,146.54L877.7,148.49L852.38,150.45L827.06,152.36L801.74,154.21L776.42,155.94L751.1,157.55L725.78,159L700.45,160.29L675.13,161.42L649.81,162.37L624.49,163.18L599.17,163.84L573.85,164.37L548.53,164.78L523.21,165.11L497.89,165.35L472.57,165.53L447.25,165.67L421.93,165.76L396.6,165.83L371.28,165.87L345.96,165.9L320.64,165.92L295.32,165.94L270,165.95Z" fill="#44205c"/>
<path d="M270,85.86L295.32,85.91L320.64,85.98L345.96,86.09L371.28,86.26L396.6,86.51L421.93,86.87L447.25,87.39L472.57,88.11L497.89,89.11L523.21,90.45L548.53,92.22L573.85,94.5L599.17,97.4L624.49,101.01L649.81,105.4L675.13,110.65L700.45,116.79L725.78,123.85L751.1,131.81L776.42,140.58L801.74,150.08L827.06,160.16L852.38,170.65L877.7,181.35L903.02,192.04L928.34,202.53L953.66,212.61L978.98,222.11L1004.3,230.89L1029.62,238.84L1054.95,245.9L1080.27,252.05L1105.59,257.29L1130.91,261.69L1156.23,265.29L1181.55,268.19L1206.87,270.48L1232.19,272.24L1257.51,273.58L1282.83,274.58L1308.15,275.3L1333.48,275.82L1358.8,276.19L1384.12,276.44L1409.44,276.6L1434.76,276.71L1460.08,276.79L1485.4,276.83L1485.4,278.37L1460.08,278.33L1434.76,278.25L1409.44,278.14L1384.12,277.98L1358.8,277.73L1333.48,277.36L1308.15,276.85L1282.83,276.12L1257.51,275.12L1232.19,273.78L1206.87,272.02L1181.55,269.73L1156.23,266.83L1130.91,263.23L1105.59,258.83L1080.27,253.59L1054.95,247.44L1029.62,240.38L1004.3,232.43L978.98,223.65L953.66,214.15L928.34,204.07L903.02,193.58L877.7,182.89L852.38,172.19L827.06,161.7L801.74,151.62L776.42,142.12L751.1,133.35L725.78,125.39L700.45,118.33L675.13,112.19L649.81,106.94L624.49,102.55L599.17,98.94L573.85,96.04L548.53,93.76L523.21,91.99L497.89,90.65L472.57,89.65L447.25,88.93L421.93,88.41L396.6,88.05L371.28,87.8L345.96,87.63L320.64,87.52L295.32,87.45L270,87.4Z" fill="#0d2667"/>
<path d="M270,84.32L295.32,84.36L320.64,84.41L345.96,84.49L371.28,84.62L396.6,84.8L421.93,85.07L447.25,85.45L472.57,85.99L497.89,86.73L523.21,87.73L548.53,89.04L573.85,90.73L599.17,92.88L624.49,95.56L649.81,98.82L675.13,102.71L700.45,107.27L725.78,112.51L751.1,118.41L776.42,124.92L801.74,131.97L827.06,139.45L852.38,147.23L877.7,155.16L903.02,163.1L928.34,170.88L953.66,178.36L978.98,185.41L1004.3,191.92L1029.62,197.82L1054.95,203.06L1080.27,207.62L1105.59,211.51L1130.91,214.77L1156.23,217.44L1181.55,219.6L1206.87,221.29L1232.19,222.6L1257.51,223.6L1282.83,224.34L1308.15,224.88L1333.48,225.26L1358.8,225.53L1384.12,225.71L1409.44,225.84L1434.76,225.92L1460.08,225.97L1485.4,226.01L1485.4,227.55L1460.08,227.51L1434.76,227.46L1409.44,227.38L1384.12,227.25L1358.8,227.07L1333.48,226.8L1308.15,226.42L1282.83,225.88L1257.51,225.14L1232.19,224.14L1206.87,222.83L1181.55,221.14L1156.23,218.98L1130.91,216.31L1105.59,213.05L1080.27,209.16L1054.95,204.6L1029.62,199.36L1004.3,193.46L978.98,186.95L953.66,179.9L928.34,172.42L903.02,164.64L877.7,156.7L852.38,148.77L827.06,140.99L801.74,133.51L776.42,126.46L751.1,119.95L725.78,114.05L700.45,108.81L675.13,104.25L649.81,100.36L624.49,97.1L599.17,94.42L573.85,92.27L548.53,90.58L523.21,89.27L497.89,88.27L472.57,87.53L447.25,86.99L421.93,86.61L396.6,86.34L371.28,86.16L345.96,86.03L320.64,85.95L295.32,85.9L270,85.86Z" fill="#0d2667"/>
<path d="M270,41.2L295.32,41.2L320.64,41.2L345.96,41.2L371.28,41.2L396.6,41.2L421.93,41.2L447.25,41.2L472.57,41.2L497.89,41.2L523.21,41.2L548.53,41.2L573.85,41.2L599.17,41.2L624.49,41.2L649.81,41.2L675.13,41.2L700.45,41.2L725.78,41.2L751.1,41.2L776.42,41.2L801.74,41.2L827.06,41.2L852.38,41.2L877.7,41.2L903.02,41.2L928.34,41.2L953.66,41.2L978.98,41.2L1004.3,41.2L1029.62,41.2L1054.95,41.2L1080.27,41.2L1105.59,41.2L1130.91,41.2L1156.23,41.2L1181.55,41.2L1206.87,41.2L1232.19,41.2L1257.51,41.2L1282.83,41.2L1308.15,41.2L1333.48,41.2L1358.8,41.2L1384.12,41.2L1409.44,41.2L1434.76,41.2L1460.08,41.2L1485.4,41.2L1485.4,84.32L1460.08,84.32L1434.76,84.32L1409.44,84.32L1384.12,84.32L1358.8,84.32L1333.48,84.32L1308.15,84.32L1282.83,84.32L1257.51,84.32L1232.19,84.32L1206.87,84.32L1181.55,84.32L1156.23,84.32L1130.91,84.32L1105.59,84.32L1080.27,84.32L1054.95,84.32L1029.62,84.32L1004.3,84.32L978.98,84.32L953.66,84.32L928.34,84.32L903.02,84.32L877.7,84.32L852.38,84.32L827.06,84.32L801.74,84.32L776.42,84.32L751.1,84.32L725.78,84.32L700.45,84.32L675.13,84.32L649.81,84.32L624.49,84.32L599.17,84.32L573.85,84.32L548.53,84.32L523.21,84.32L497.89,84.32L472.57,84.32L447.25,84.32L421.93,84.32L396.6,84.32L371.28,84.32L345.96,84.32L320.64,84.32L295.32,84.32L270,84.32Z" fill="#0d2667"/>
</g>
<rect x="238.5" y="41.2" width="31.5" height="46.2" fill="#1a2b55"/>
<rect x="238.5" y="119.23" width="31.5" height="53.9" fill="#37265b"/>
<rect x="238.5" y="204.96" width="31.5" height="24.13" fill="#6b1f58"/>
<rect x="238.5" y="260.92" width="31.5" height="74.44" fill="#8e1b49"/>
<rect x="238.5" y="367.19" width="31.5" height="5.65" fill="#a81b35"/>
<rect x="238.5" y="404.66" width="31.5" height="7.19" fill="#c0191f"/>
<rect x="1485.4" y="41.2" width="31.6" height="152.98" fill="#1a2b55"/>
<rect x="1485.4" y="226.01" width="31.6" height="18.99" fill="#37265b"/>
<rect x="1485.4" y="276.83" width="31.6" height="6.16" fill="#6b1f58"/>
<rect x="1485.4" y="314.82" width="31.6" height="8.73" fill="#8e1b49"/>
<rect x="1485.4" y="355.38" width="31.6" height="2.57" fill="#a81b35"/>
<rect x="1485.4" y="389.4" width="31.6" height="2.3" fill="#c0191f"/>
<rect x="1485.4" y="423.15" width="31.6" height="20.53" fill="#c0191f"/>
<!-- panel B -->
<g fill-opacity="0.4" stroke="none">
<path d="M270,900.7L295.32,900.69L320.64,900.66L345.96,900.61L371.28,900.54L396.6,900.44L421.93,900.29L447.25,900.07L472.57,899.77L497.89,899.36L523.21,898.81L548.53,898.08L573.85,897.13L599.17,895.94L624.49,894.45L649.81,892.63L675.13,890.47L700.45,887.93L725.78,885.01L751.1,881.73L776.42,878.1L801.74,874.17L827.06,870.01L852.38,865.68L877.7,861.26L903.02,856.84L928.34,852.51L953.66,848.34L978.98,844.42L1004.3,840.79L1029.62,837.51L1054.95,834.59L1080.27,832.05L1105.59,829.88L1130.91,828.07L1156.23,826.58L1181.55,825.38L1206.87,824.44L1232.19,823.71L1257.51,823.16L1282.83,822.74L1308.15,822.44L1333.48,822.23L1358.8,822.08L1384.12,821.98L1409.44,821.91L1434.76,821.86L1460.08,821.83L1485.4,821.81L1485.4,822.51L1460.08,822.53L1434.76,822.56L1409.44,822.6L1384.12,822.67L1358.8,822.78L1333.48,822.93L1308.15,823.14L1282.83,823.44L1257.51,823.85L1232.19,824.4L1206.87,825.13L1181.55,826.08L1156.23,827.28L1130.91,828.77L1105.59,830.58L1080.27,832.75L1054.95,835.29L1029.62,838.2L1004.3,841.49L978.98,845.11L953.66,849.04L928.34,853.2L903.02,857.54L877.7,861.95L852.38,866.37L827.06,870.71L801.74,874.87L776.42,878.79L751.1,882.42L725.78,885.7L700.45,888.62L675.13,891.16L649.81,893.33L624.49,895.14L599.17,896.63L573.85,897.83L548.53,898.77L523.21,899.5L497.89,900.06L472.57,900.47L447.25,900.77L421.93,900.98L396.6,901.13L371.28,901.24L345.96,901.31L320.64,901.35L295.32,901.38L270,901.4Z" fill="#d0151c"/>
<path d="M270,866.82L295.32,866.84L320.64,866.86L345.96,866.9L371.28,866.95L396.6,867.04L421.93,867.16L447.25,867.33L472.57,867.58L497.89,867.91L523.21,868.36L548.53,868.96L573.85,869.73L599.17,870.71L624.49,871.92L649.81,873.4L675.13,875.16L700.45,877.23L725.78,879.61L751.1,882.29L776.42,885.24L801.74,888.44L827.06,891.84L852.38,895.37L877.7,898.97L903.02,902.57L928.34,906.1L953.66,909.49L978.98,912.69L1004.3,915.65L1029.62,918.32L1054.95,920.7L1080.27,922.77L1105.59,924.54L1130.91,926.02L1156.23,927.23L1181.55,928.2L1206.87,928.97L1232.19,929.57L1257.51,930.02L1282.83,930.36L1308.15,930.6L1333.48,930.78L1358.8,930.9L1384.12,930.98L1409.44,931.04L1434.76,931.08L1460.08,931.1L1485.4,931.11L1485.4,933.2L1460.08,933.18L1434.76,933.16L1409.44,933.12L1384.12,933.07L1358.8,932.98L1333.48,932.86L1308.15,932.69L1282.83,932.44L1257.51,932.11L1232.19,931.65L1206.87,931.06L1181.55,930.29L1156.23,929.31L1130.91,928.1L1105.59,926.62L1080.27,924.86L1054.95,922.79L1029.62,920.41L1004.3,917.73L978.98,914.78L953.66,911.58L928.34,908.18L903.02,904.65L877.7,901.05L852.38,897.45L827.06,893.92L801.74,890.53L776.42,887.33L751.1,884.37L725.78,881.7L700.45,879.32L675.13,877.25L649.81,875.48L624.49,874L599.17,872.79L573.85,871.81L548.53,871.05L523.21,870.45L497.89,870L472.57,869.66L447.25,869.42L421.93,869.24L396.6,869.12L371.28,869.04L345.96,868.98L320.64,868.94L295.32,868.92L270,868.9Z" fill="#ac1c38"/>
<path d="M270,865.43L295.32,865.42L320.64,865.4L345.96,865.38L371.28,865.34L396.6,865.28L421.93,865.19L447.25,865.07L472.57,864.9L497.89,864.66L523.21,864.35L548.53,863.93L573.85,863.39L599.17,862.71L624.49,861.86L649.81,860.83L675.13,859.59L700.45,858.14L725.78,856.48L751.1,854.6L776.42,852.53L801.74,850.29L827.06,847.92L852.38,845.45L877.7,842.93L903.02,840.41L928.34,837.93L953.66,835.56L978.98,833.32L1004.3,831.25L1029.62,829.38L1054.95,827.71L1080.27,826.26L1105.59,825.03L1130.91,823.99L1156.23,823.14L1181.55,822.46L1206.87,821.92L1232.19,821.5L1257.51,821.19L1282.83,820.95L1308.15,820.78L1333.48,820.66L1358.8,820.58L1384.12,820.52L1409.44,820.48L1434.76,820.45L1460.08,820.43L1485.4,820.42L1485.4,821.81L1460.08,821.82L1434.76,821.84L1409.44,821.87L1384.12,821.91L1358.8,821.97L1333.48,822.05L1308.15,822.17L1282.83,822.34L1257.51,822.58L1232.19,822.9L1206.87,823.31L1181.55,823.85L1156.23,824.53L1130.91,825.38L1105.59,826.42L1080.27,827.65L1054.95,829.1L1029.62,830.77L1004.3,832.64L978.98,834.71L953.66,836.95L928.34,839.32L903.02,841.8L877.7,844.32L852.38,846.84L827.06,849.31L801.74,851.68L776.42,853.92L751.1,855.99L725.78,857.87L700.45,859.53L675.13,860.98L649.81,862.22L624.49,863.25L599.17,864.1L573.85,864.78L548.53,865.32L523.21,865.74L497.89,866.05L472.57,866.29L447.25,866.46L421.93,866.58L396.6,866.67L371.28,866.73L345.96,866.77L320.64,866.79L295.32,866.81L270,866.82Z" fill="#ac1c38"/>
<path d="M270,864.04L295.32,864.01L320.64,863.96L345.96,863.89L371.28,863.78L396.6,863.61L421.93,863.37L447.25,863.03L472.57,862.55L497.89,861.88L523.21,861L548.53,859.82L573.85,858.31L599.17,856.38L624.49,853.99L649.81,851.08L675.13,847.6L700.45,843.52L725.78,838.84L751.1,833.56L776.42,827.74L801.74,821.44L827.06,814.75L852.38,807.8L877.7,800.7L903.02,793.6L928.34,786.65L953.66,779.96L978.98,773.66L1004.3,767.84L1029.62,762.56L1054.95,757.88L1080.27,753.8L1105.59,750.32L1130.91,747.41L1156.23,745.02L1181.55,743.09L1206.87,741.58L1232.19,740.41L1257.51,739.52L1282.83,738.86L1308.15,738.37L1333.48,738.03L1358.8,737.79L1384.12,737.62L1409.44,737.51L1434.76,737.44L1460.08,737.39L1485.4,737.36L1485.4,738.75L1460.08,738.78L1434.76,738.83L1409.44,738.9L1384.12,739.01L1358.8,739.18L1333.48,739.42L1308.15,739.76L1282.83,740.25L1257.51,740.91L1232.19,741.8L1206.87,742.97L1181.55,744.49L1156.23,746.41L1130.91,748.8L1105.59,751.71L1080.27,755.19L1054.95,759.27L1029.62,763.95L1004.3,769.23L978.98,775.05L953.66,781.35L928.34,788.04L903.02,794.99L877.7,802.09L852.38,809.19L827.06,816.14L801.74,822.83L776.42,829.13L751.1,834.95L725.78,840.23L700.45,844.91L675.13,848.99L649.81,852.47L624.49,855.38L599.17,857.77L573.85,859.7L548.53,861.21L523.21,862.39L497.89,863.27L472.57,863.94L447.25,864.42L421.93,864.76L396.6,865L371.28,865.17L345.96,865.28L320.64,865.35L295.32,865.4L270,865.43Z" fill="#ac1c38"/>
<path d="M270,861.26L295.32,861.21L320.64,861.12L345.96,860.99L371.28,860.79L396.6,860.5L421.93,860.07L447.25,859.46L472.57,858.61L497.89,857.44L523.21,855.86L548.53,853.79L573.85,851.1L599.17,847.69L624.49,843.45L649.81,838.29L675.13,832.12L700.45,824.89L725.78,816.59L751.1,807.25L776.42,796.93L801.74,785.76L827.06,773.91L852.38,761.58L877.7,749L903.02,736.43L928.34,724.1L953.66,712.25L978.98,701.08L1004.3,690.76L1029.62,681.42L1054.95,673.12L1080.27,665.89L1105.59,659.72L1130.91,654.56L1156.23,650.32L1181.55,646.91L1206.87,644.22L1232.19,642.15L1257.51,640.57L1282.83,639.4L1308.15,638.55L1333.48,637.94L1358.8,637.51L1384.12,637.22L1409.44,637.02L1434.76,636.89L1460.08,636.8L1485.4,636.75L1485.4,639.53L1460.08,639.58L1434.76,639.67L1409.44,639.8L1384.12,640L1358.8,640.29L1333.48,640.72L1308.15,641.33L1282.83,642.18L1257.51,643.35L1232.19,644.93L1206.87,647L1181.55,649.69L1156.23,653.1L1130.91,657.34L1105.59,662.5L1080.27,668.67L1054.95,675.9L1029.62,684.2L1004.3,693.54L978.98,703.86L953.66,715.03L928.34,726.88L903.02,739.21L877.7,751.78L852.38,764.36L827.06,776.69L801.74,788.54L776.42,799.71L751.1,810.03L725.78,819.37L700.45,827.67L675.13,834.9L649.81,841.07L624.49,846.23L599.17,850.47L573.85,853.88L548.53,856.57L523.21,858.64L497.89,860.22L472.57,861.39L447.25,862.24L421.93,862.85L396.6,863.28L371.28,863.57L345.96,863.77L320.64,863.9L295.32,863.99L270,864.04Z" fill="#ac1c38"/>
<path d="M270,818.34L295.32,818.36L320.64,818.4L345.96,818.46L371.28,818.55L396.6,818.68L421.93,818.88L447.25,819.15L472.57,819.54L497.89,820.07L523.21,820.78L548.53,821.72L573.85,822.94L599.17,824.48L624.49,826.4L649.81,828.74L675.13,831.53L700.45,834.8L725.78,838.56L751.1,842.79L776.42,847.47L801.74,852.52L827.06,857.89L852.38,863.47L877.7,869.17L903.02,874.86L928.34,880.44L953.66,885.81L978.98,890.87L1004.3,895.54L1029.62,899.77L1054.95,903.53L1080.27,906.8L1105.59,909.59L1130.91,911.93L1156.23,913.85L1181.55,915.39L1206.87,916.61L1232.19,917.55L1257.51,918.26L1282.83,918.79L1308.15,919.18L1333.48,919.46L1358.8,919.65L1384.12,919.78L1409.44,919.87L1434.76,919.93L1460.08,919.97L1485.4,919.99L1485.4,931.11L1460.08,931.09L1434.76,931.05L1409.44,930.99L1384.12,930.9L1358.8,930.77L1333.48,930.58L1308.15,930.3L1282.83,929.92L1257.51,929.39L1232.19,928.67L1206.87,927.73L1181.55,926.51L1156.23,924.97L1130.91,923.05L1105.59,920.71L1080.27,917.92L1054.95,914.65L1029.62,910.89L1004.3,906.66L978.98,901.99L953.66,896.93L928.34,891.56L903.02,885.98L877.7,880.29L852.38,874.59L827.06,869.01L801.74,863.64L776.42,858.59L751.1,853.92L725.78,849.68L700.45,845.93L675.13,842.65L649.81,839.86L624.49,837.52L599.17,835.6L573.85,834.06L548.53,832.84L523.21,831.9L497.89,831.19L472.57,830.66L447.25,830.27L421.93,830L396.6,829.8L371.28,829.67L345.96,829.58L320.64,829.52L295.32,829.48L270,829.46Z" fill="#8e1b49"/>
<path d="M270,817.64L295.32,817.66L320.64,817.69L345.96,817.73L371.28,817.79L396.6,817.88L421.93,818.01L447.25,818.2L472.57,818.46L497.89,818.82L523.21,819.31L548.53,819.95L573.85,820.77L599.17,821.82L624.49,823.13L649.81,824.72L675.13,826.62L700.45,828.85L725.78,831.4L751.1,834.28L776.42,837.46L801.74,840.9L827.06,844.55L852.38,848.35L877.7,852.22L903.02,856.1L928.34,859.9L953.66,863.55L978.98,866.99L1004.3,870.16L1029.62,873.04L1054.95,875.6L1080.27,877.83L1105.59,879.73L1130.91,881.32L1156.23,882.62L1181.55,883.67L1206.87,884.5L1232.19,885.14L1257.51,885.63L1282.83,885.99L1308.15,886.25L1333.48,886.44L1358.8,886.57L1384.12,886.66L1409.44,886.72L1434.76,886.76L1460.08,886.79L1485.4,886.8L1485.4,887.5L1460.08,887.48L1434.76,887.46L1409.44,887.42L1384.12,887.36L1358.8,887.26L1333.48,887.13L1308.15,886.95L1282.83,886.68L1257.51,886.32L1232.19,885.84L1206.87,885.2L1181.55,884.37L1156.23,883.32L1130.91,882.01L1105.59,880.42L1080.27,878.52L1054.95,876.3L1029.62,873.74L1004.3,870.86L978.98,867.68L953.66,864.24L928.34,860.59L903.02,856.79L877.7,852.92L852.38,849.04L827.06,845.25L801.74,841.6L776.42,838.16L751.1,834.98L725.78,832.1L700.45,829.54L675.13,827.31L649.81,825.41L624.49,823.82L599.17,822.52L573.85,821.47L548.53,820.64L523.21,820L497.89,819.51L472.57,819.15L447.25,818.89L421.93,818.7L396.6,818.57L371.28,818.48L345.96,818.42L320.64,818.38L295.32,818.35L270,818.34Z" fill="#8e1b49"/>
<path d="M270,806.52L295.32,806.52L320.64,806.52L345.96,806.53L371.28,806.53L396.6,806.53L421.93,806.54L447.25,806.54L472.57,806.55L497.89,806.57L523.21,806.59L548.53,806.61L573.85,806.65L599.17,806.69L624.49,806.74L649.81,806.81L675.13,806.88L700.45,806.97L725.78,807.08L751.1,807.19L776.42,807.32L801.74,807.46L827.06,807.6L852.38,807.76L877.7,807.91L903.02,808.07L928.34,808.22L953.66,808.37L978.98,808.51L1004.3,808.63L1029.62,808.75L1054.95,808.85L1080.27,808.94L1105.59,809.02L1130.91,809.08L1156.23,809.13L1181.55,809.18L1206.87,809.21L1232.19,809.24L1257.51,809.26L1282.83,809.27L1308.15,809.28L1333.48,809.29L1358.8,809.29L1384.12,809.3L1409.44,809.3L1434.76,809.3L1460.08,809.3L1485.4,809.3L1485.4,820.42L1460.08,820.42L1434.76,820.42L1409.44,820.42L1384.12,820.42L1358.8,820.41L1333.48,820.41L1308.15,820.4L1282.83,820.39L1257.51,820.38L1232.19,820.36L1206.87,820.33L1181.55,820.3L1156.23,820.26L1130.91,820.2L1105.59,820.14L1080.27,820.06L1054.95,819.97L1029.62,819.87L1004.3,819.75L978.98,819.63L953.66,819.49L928.34,819.34L903.02,819.19L877.7,819.03L852.38,818.88L827.06,818.72L801.74,818.58L776.42,818.44L751.1,818.31L725.78,818.2L700.45,818.09L675.13,818L649.81,817.93L624.49,817.86L599.17,817.81L573.85,817.77L548.53,817.74L523.21,817.71L497.89,817.69L472.57,817.68L447.25,817.67L421.93,817.66L396.6,817.65L371.28,817.65L345.96,817.65L320.64,817.64L295.32,817.64L270,817.64Z" fill="#8e1b49"/>
<path d="M270,804.44L295.32,804.43L320.64,804.42L345.96,804.4L371.28,804.37L396.6,804.32L421.93,804.26L447.25,804.17L472.57,804.05L497.89,803.87L523.21,803.64L548.53,803.33L573.85,802.93L599.17,802.43L624.49,801.8L649.81,801.04L675.13,800.13L700.45,799.06L725.78,797.83L751.1,796.45L776.42,794.93L801.74,793.28L827.06,791.52L852.38,789.7L877.7,787.84L903.02,785.98L928.34,784.16L953.66,782.41L978.98,780.76L1004.3,779.23L1029.62,777.85L1054.95,776.62L1080.27,775.55L1105.59,774.64L1130.91,773.88L1156.23,773.25L1181.55,772.75L1206.87,772.35L1232.19,772.04L1257.51,771.81L1282.83,771.64L1308.15,771.51L1333.48,771.42L1358.8,771.36L1384.12,771.32L1409.44,771.29L1434.76,771.27L1460.08,771.25L1485.4,771.25L1485.4,773.33L1460.08,773.34L1434.76,773.35L1409.44,773.37L1384.12,773.4L1358.8,773.44L1333.48,773.51L1308.15,773.6L1282.83,773.72L1257.51,773.9L1232.19,774.13L1206.87,774.44L1181.55,774.83L1156.23,775.34L1130.91,775.96L1105.59,776.73L1080.27,777.64L1054.95,778.71L1029.62,779.94L1004.3,781.32L978.98,782.84L953.66,784.49L928.34,786.25L903.02,788.07L877.7,789.93L852.38,791.79L827.06,793.61L801.74,795.36L776.42,797.01L751.1,798.54L725.78,799.92L700.45,801.15L675.13,802.21L649.81,803.13L624.49,803.89L599.17,804.52L573.85,805.02L548.53,805.42L523.21,805.72L497.89,805.96L472.57,806.13L447.25,806.26L421.93,806.35L396.6,806.41L371.28,806.45L345.96,806.48L320.64,806.5L295.32,806.51L270,806.52Z" fill="#8e1b49"/>
<path d="M270,786.37L295.32,786.35L320.64,786.32L345.96,786.29L371.28,786.23L396.6,786.14L421.93,786.01L447.25,785.83L472.57,785.57L497.89,785.22L523.21,784.75L548.53,784.13L573.85,783.33L599.17,782.31L624.49,781.05L649.81,779.5L675.13,777.66L700.45,775.5L725.78,773.02L751.1,770.23L776.42,767.15L801.74,763.81L827.06,760.27L852.38,756.58L877.7,752.83L903.02,749.07L928.34,745.39L953.66,741.85L978.98,738.51L1004.3,735.43L1029.62,732.63L1054.95,730.15L1080.27,728L1105.59,726.15L1130.91,724.61L1156.23,723.34L1181.55,722.33L1206.87,721.52L1232.19,720.9L1257.51,720.43L1282.83,720.08L1308.15,719.83L1333.48,719.64L1358.8,719.52L1384.12,719.43L1409.44,719.37L1434.76,719.33L1460.08,719.31L1485.4,719.29L1485.4,737.36L1460.08,737.38L1434.76,737.4L1409.44,737.44L1384.12,737.5L1358.8,737.59L1333.48,737.72L1308.15,737.9L1282.83,738.15L1257.51,738.5L1232.19,738.97L1206.87,739.59L1181.55,740.4L1156.23,741.42L1130.91,742.68L1105.59,744.22L1080.27,746.07L1054.95,748.23L1029.62,750.71L1004.3,753.5L978.98,756.58L953.66,759.92L928.34,763.46L903.02,767.14L877.7,770.9L852.38,774.66L827.06,778.34L801.74,781.88L776.42,785.22L751.1,788.3L725.78,791.09L700.45,793.57L675.13,795.73L649.81,797.57L624.49,799.12L599.17,800.38L573.85,801.4L548.53,802.2L523.21,802.82L497.89,803.3L472.57,803.65L447.25,803.9L421.93,804.08L396.6,804.21L371.28,804.3L345.96,804.36L320.64,804.4L295.32,804.42L270,804.44Z" fill="#8e1b49"/>
<path d="M270,765.51L295.32,765.48L320.64,765.42L345.96,765.33L371.28,765.2L396.6,765.01L421.93,764.72L447.25,764.32L472.57,763.75L497.89,762.97L523.21,761.92L548.53,760.53L573.85,758.74L599.17,756.47L624.49,753.65L649.81,750.21L675.13,746.1L700.45,741.28L725.78,735.75L751.1,729.52L776.42,722.64L801.74,715.2L827.06,707.3L852.38,699.09L877.7,690.71L903.02,682.33L928.34,674.11L953.66,666.21L978.98,658.77L1004.3,651.89L1029.62,645.66L1054.95,640.13L1080.27,635.32L1105.59,631.2L1130.91,627.76L1156.23,624.94L1181.55,622.67L1206.87,620.88L1232.19,619.49L1257.51,618.44L1282.83,617.66L1308.15,617.09L1333.48,616.69L1358.8,616.4L1384.12,616.21L1409.44,616.08L1434.76,615.99L1460.08,615.93L1485.4,615.9L1485.4,636.75L1460.08,636.79L1434.76,636.84L1409.44,636.93L1384.12,637.06L1358.8,637.26L1333.48,637.54L1308.15,637.95L1282.83,638.52L1257.51,639.3L1232.19,640.35L1206.87,641.73L1181.55,643.52L1156.23,645.79L1130.91,648.62L1105.59,652.06L1080.27,656.17L1054.95,660.98L1029.62,666.52L1004.3,672.74L978.98,679.62L953.66,687.06L928.34,694.96L903.02,703.18L877.7,711.56L852.38,719.94L827.06,728.15L801.74,736.05L776.42,743.49L751.1,750.37L725.78,756.6L700.45,762.13L675.13,766.95L649.81,771.06L624.49,774.5L599.17,777.32L573.85,779.59L548.53,781.38L523.21,782.77L497.89,783.82L472.57,784.6L447.25,785.17L421.93,785.57L396.6,785.86L371.28,786.05L345.96,786.19L320.64,786.27L295.32,786.33L270,786.37Z" fill="#8e1b49"/>
<path d="M270,733.02L295.32,733.04L320.64,733.06L345.96,733.11L371.28,733.17L396.6,733.27L421.93,733.42L447.25,733.62L472.57,733.91L497.89,734.3L523.21,734.83L548.53,735.53L573.85,736.44L599.17,737.59L624.49,739.01L649.81,740.75L675.13,742.83L700.45,745.26L725.78,748.06L751.1,751.2L776.42,754.68L801.74,758.44L827.06,762.43L852.38,766.58L877.7,770.81L903.02,775.05L928.34,779.2L953.66,783.19L978.98,786.95L1004.3,790.42L1029.62,793.57L1054.95,796.36L1080.27,798.8L1105.59,800.87L1130.91,802.61L1156.23,804.04L1181.55,805.19L1206.87,806.09L1232.19,806.79L1257.51,807.32L1282.83,807.72L1308.15,808L1333.48,808.21L1358.8,808.35L1384.12,808.45L1409.44,808.52L1434.76,808.56L1460.08,808.59L1485.4,808.61L1485.4,809.3L1460.08,809.28L1434.76,809.26L1409.44,809.21L1384.12,809.15L1358.8,809.05L1333.48,808.9L1308.15,808.7L1282.83,808.41L1257.51,808.02L1232.19,807.49L1206.87,806.79L1181.55,805.88L1156.23,804.73L1130.91,803.31L1105.59,801.57L1080.27,799.49L1054.95,797.06L1029.62,794.26L1004.3,791.12L978.98,787.64L953.66,783.88L928.34,779.89L903.02,775.74L877.7,771.51L852.38,767.27L827.06,763.12L801.74,759.13L776.42,755.37L751.1,751.9L725.78,748.75L700.45,745.96L675.13,743.52L649.81,741.45L624.49,739.71L599.17,738.28L573.85,737.13L548.53,736.23L523.21,735.53L497.89,735L472.57,734.6L447.25,734.32L421.93,734.11L396.6,733.97L371.28,733.87L345.96,733.8L320.64,733.76L295.32,733.73L270,733.71Z" fill="#6b1f58"/>
<path d="M270,731.63L295.32,731.62L320.64,731.62L345.96,731.61L371.28,731.6L396.6,731.58L421.93,731.56L447.25,731.52L472.57,731.47L497.89,731.39L523.21,731.3L548.53,731.17L573.85,731.01L599.17,730.8L624.49,730.54L649.81,730.22L675.13,729.85L700.45,729.4L725.78,728.9L751.1,728.33L776.42,727.69L801.74,727.01L827.06,726.29L852.38,725.53L877.7,724.76L903.02,723.99L928.34,723.24L953.66,722.52L978.98,721.83L1004.3,721.2L1029.62,720.63L1054.95,720.12L1080.27,719.68L1105.59,719.3L1130.91,718.99L1156.23,718.73L1181.55,718.52L1206.87,718.36L1232.19,718.23L1257.51,718.13L1282.83,718.06L1308.15,718.01L1333.48,717.97L1358.8,717.95L1384.12,717.93L1409.44,717.92L1434.76,717.91L1460.08,717.9L1485.4,717.9L1485.4,719.29L1460.08,719.29L1434.76,719.3L1409.44,719.31L1384.12,719.32L1358.8,719.34L1333.48,719.36L1308.15,719.4L1282.83,719.45L1257.51,719.52L1232.19,719.62L1206.87,719.75L1181.55,719.91L1156.23,720.12L1130.91,720.38L1105.59,720.69L1080.27,721.07L1054.95,721.51L1029.62,722.02L1004.3,722.59L978.98,723.22L953.66,723.91L928.34,724.63L903.02,725.38L877.7,726.15L852.38,726.92L827.06,727.68L801.74,728.4L776.42,729.08L751.1,729.72L725.78,730.29L700.45,730.79L675.13,731.24L649.81,731.61L624.49,731.93L599.17,732.19L573.85,732.4L548.53,732.56L523.21,732.69L497.89,732.78L472.57,732.86L447.25,732.91L421.93,732.95L396.6,732.97L371.28,732.99L345.96,733L320.64,733.01L295.32,733.01L270,733.02Z" fill="#6b1f58"/>
<path d="M270,722.59L295.32,722.56L320.64,722.52L345.96,722.45L371.28,722.35L396.6,722.2L421.93,721.98L447.25,721.67L472.57,721.23L497.89,720.62L523.21,719.81L548.53,718.74L573.85,717.35L599.17,715.6L624.49,713.41L649.81,710.75L675.13,707.57L700.45,703.85L725.78,699.57L751.1,694.75L776.42,689.43L801.74,683.67L827.06,677.57L852.38,671.21L877.7,664.73L903.02,658.24L928.34,651.89L953.66,645.78L978.98,640.02L1004.3,634.7L1029.62,629.89L1054.95,625.61L1080.27,621.88L1105.59,618.7L1130.91,616.04L1156.23,613.86L1181.55,612.1L1206.87,610.71L1232.19,609.64L1257.51,608.83L1282.83,608.23L1308.15,607.79L1333.48,607.47L1358.8,607.25L1384.12,607.1L1409.44,607L1434.76,606.93L1460.08,606.89L1485.4,606.86L1485.4,615.9L1460.08,615.93L1434.76,615.97L1409.44,616.04L1384.12,616.14L1358.8,616.29L1333.48,616.51L1308.15,616.82L1282.83,617.26L1257.51,617.87L1232.19,618.68L1206.87,619.75L1181.55,621.14L1156.23,622.89L1130.91,625.08L1105.59,627.74L1080.27,630.92L1054.95,634.64L1029.62,638.92L1004.3,643.74L978.98,649.06L953.66,654.82L928.34,660.93L903.02,667.28L877.7,673.76L852.38,680.25L827.06,686.6L801.74,692.71L776.42,698.47L751.1,703.79L725.78,708.6L700.45,712.88L675.13,716.61L649.81,719.79L624.49,722.45L599.17,724.63L573.85,726.39L548.53,727.78L523.21,728.85L497.89,729.66L472.57,730.26L447.25,730.7L421.93,731.02L396.6,731.24L371.28,731.39L345.96,731.49L320.64,731.56L295.32,731.6L270,731.63Z" fill="#6b1f58"/>
<path d="M270,690.1L295.32,690.15L320.64,690.24L345.96,690.37L371.28,690.57L396.6,690.87L421.93,691.31L447.25,691.93L472.57,692.8L497.89,694L523.21,695.6L548.53,697.73L573.85,700.47L599.17,703.95L624.49,708.27L649.81,713.55L675.13,719.84L700.45,727.22L725.78,735.7L751.1,745.24L776.42,755.77L801.74,767.17L827.06,779.27L852.38,791.86L877.7,804.7L903.02,817.54L928.34,830.12L953.66,842.22L978.98,853.62L1004.3,864.16L1029.62,873.7L1054.95,882.17L1080.27,889.55L1105.59,895.85L1130.91,901.12L1156.23,905.45L1181.55,908.93L1206.87,911.67L1232.19,913.79L1257.51,915.4L1282.83,916.59L1308.15,917.47L1333.48,918.09L1358.8,918.52L1384.12,918.82L1409.44,919.02L1434.76,919.16L1460.08,919.24L1485.4,919.3L1485.4,919.99L1460.08,919.94L1434.76,919.85L1409.44,919.72L1384.12,919.52L1358.8,919.22L1333.48,918.78L1308.15,918.16L1282.83,917.29L1257.51,916.09L1232.19,914.49L1206.87,912.36L1181.55,909.62L1156.23,906.14L1130.91,901.82L1105.59,896.54L1080.27,890.25L1054.95,882.87L1029.62,874.39L1004.3,864.85L978.98,854.32L953.66,842.92L928.34,830.82L903.02,818.23L877.7,805.39L852.38,792.55L827.06,779.97L801.74,767.87L776.42,756.47L751.1,745.93L725.78,736.39L700.45,727.92L675.13,720.54L649.81,714.24L624.49,708.97L599.17,704.64L573.85,701.17L548.53,698.42L523.21,696.3L497.89,694.69L472.57,693.5L447.25,692.62L421.93,692L396.6,691.57L371.28,691.27L345.96,691.07L320.64,690.93L295.32,690.85L270,690.79Z" fill="#44205c"/>
<path d="M270,687.32L295.32,687.35L320.64,687.39L345.96,687.46L371.28,687.56L396.6,687.72L421.93,687.94L447.25,688.26L472.57,688.71L497.89,689.33L523.21,690.16L548.53,691.26L573.85,692.68L599.17,694.48L624.49,696.72L649.81,699.44L675.13,702.7L700.45,706.51L725.78,710.89L751.1,715.83L776.42,721.27L801.74,727.17L827.06,733.43L852.38,739.93L877.7,746.57L903.02,753.21L928.34,759.72L953.66,765.97L978.98,771.87L1004.3,777.32L1029.62,782.25L1054.95,786.63L1080.27,790.45L1105.59,793.7L1130.91,796.43L1156.23,798.66L1181.55,800.46L1206.87,801.88L1232.19,802.98L1257.51,803.81L1282.83,804.43L1308.15,804.88L1333.48,805.2L1358.8,805.43L1384.12,805.58L1409.44,805.69L1434.76,805.75L1460.08,805.8L1485.4,805.83L1485.4,808.61L1460.08,808.58L1434.76,808.53L1409.44,808.47L1384.12,808.36L1358.8,808.21L1333.48,807.98L1308.15,807.66L1282.83,807.21L1257.51,806.59L1232.19,805.76L1206.87,804.66L1181.55,803.24L1156.23,801.44L1130.91,799.21L1105.59,796.48L1080.27,793.23L1054.95,789.41L1029.62,785.03L1004.3,780.1L978.98,774.65L953.66,768.75L928.34,762.5L903.02,755.99L877.7,749.35L852.38,742.71L827.06,736.21L801.74,729.95L776.42,724.05L751.1,718.61L725.78,713.67L700.45,709.29L675.13,705.48L649.81,702.22L624.49,699.5L599.17,697.26L573.85,695.46L548.53,694.04L523.21,692.94L497.89,692.11L472.57,691.5L447.25,691.04L421.93,690.72L396.6,690.5L371.28,690.34L345.96,690.24L320.64,690.17L295.32,690.13L270,690.1Z" fill="#44205c"/>
<path d="M270,686.62L295.32,686.64L320.64,686.67L345.96,686.72L371.28,686.8L396.6,686.91L421.93,687.06L447.25,687.29L472.57,687.61L497.89,688.05L523.21,688.64L548.53,689.42L573.85,690.42L599.17,691.69L624.49,693.28L649.81,695.21L675.13,697.51L700.45,700.22L725.78,703.32L751.1,706.81L776.42,710.67L801.74,714.85L827.06,719.28L852.38,723.89L877.7,728.59L903.02,733.29L928.34,737.9L953.66,742.33L978.98,746.5L1004.3,750.36L1029.62,753.85L1054.95,756.96L1080.27,759.66L1105.59,761.97L1130.91,763.9L1156.23,765.48L1181.55,766.75L1206.87,767.76L1232.19,768.53L1257.51,769.12L1282.83,769.56L1308.15,769.88L1333.48,770.11L1358.8,770.27L1384.12,770.38L1409.44,770.45L1434.76,770.5L1460.08,770.53L1485.4,770.55L1485.4,771.25L1460.08,771.23L1434.76,771.2L1409.44,771.15L1384.12,771.07L1358.8,770.96L1333.48,770.8L1308.15,770.58L1282.83,770.26L1257.51,769.82L1232.19,769.23L1206.87,768.45L1181.55,767.45L1156.23,766.17L1130.91,764.59L1105.59,762.66L1080.27,760.35L1054.95,757.65L1029.62,754.55L1004.3,751.05L978.98,747.2L953.66,743.02L928.34,738.59L903.02,733.98L877.7,729.28L852.38,724.58L827.06,719.97L801.74,715.54L776.42,711.37L751.1,707.51L725.78,704.01L700.45,700.91L675.13,698.21L649.81,695.9L624.49,693.97L599.17,692.39L573.85,691.12L548.53,690.11L523.21,689.33L497.89,688.74L472.57,688.31L447.25,687.99L421.93,687.76L396.6,687.6L371.28,687.49L345.96,687.42L320.64,687.37L295.32,687.34L270,687.32Z" fill="#44205c"/>
<path d="M270,650.48L295.32,650.49L320.64,650.5L345.96,650.52L371.28,650.54L396.6,650.58L421.93,650.64L447.25,650.73L472.57,650.85L497.89,651.01L523.21,651.23L548.53,651.52L573.85,651.89L599.17,652.37L624.49,652.96L649.81,653.68L675.13,654.54L700.45,655.54L725.78,656.7L751.1,658L776.42,659.44L801.74,661L827.06,662.65L852.38,664.37L877.7,666.12L903.02,667.87L928.34,669.59L953.66,671.24L978.98,672.79L1004.3,674.23L1029.62,675.53L1054.95,676.69L1080.27,677.7L1105.59,678.56L1130.91,679.28L1156.23,679.87L1181.55,680.34L1206.87,680.72L1232.19,681L1257.51,681.22L1282.83,681.39L1308.15,681.51L1333.48,681.59L1358.8,681.65L1384.12,681.69L1409.44,681.72L1434.76,681.74L1460.08,681.75L1485.4,681.76L1485.4,717.9L1460.08,717.89L1434.76,717.88L1409.44,717.86L1384.12,717.83L1358.8,717.79L1333.48,717.73L1308.15,717.65L1282.83,717.53L1257.51,717.37L1232.19,717.15L1206.87,716.86L1181.55,716.48L1156.23,716.01L1130.91,715.42L1105.59,714.7L1080.27,713.84L1054.95,712.83L1029.62,711.68L1004.3,710.37L978.98,708.94L953.66,707.38L928.34,705.73L903.02,704.01L877.7,702.26L852.38,700.51L827.06,698.79L801.74,697.14L776.42,695.58L751.1,694.15L725.78,692.84L700.45,691.69L675.13,690.68L649.81,689.82L624.49,689.1L599.17,688.51L573.85,688.04L548.53,687.66L523.21,687.37L497.89,687.15L472.57,686.99L447.25,686.87L421.93,686.79L396.6,686.73L371.28,686.69L345.96,686.66L320.64,686.64L295.32,686.63L270,686.62Z" fill="#44205c"/>
<path d="M270,588.62L295.32,588.61L320.64,588.59L345.96,588.57L371.28,588.53L396.6,588.47L421.93,588.39L447.25,588.27L472.57,588.1L497.89,587.88L523.21,587.57L548.53,587.17L573.85,586.64L599.17,585.98L624.49,585.16L649.81,584.16L675.13,582.96L700.45,581.55L725.78,579.94L751.1,578.12L776.42,576.12L801.74,573.95L827.06,571.65L852.38,569.25L877.7,566.81L903.02,564.37L928.34,561.97L953.66,559.67L978.98,557.5L1004.3,555.49L1029.62,553.68L1054.95,552.07L1080.27,550.66L1105.59,549.46L1130.91,548.46L1156.23,547.64L1181.55,546.98L1206.87,546.45L1232.19,546.05L1257.51,545.74L1282.83,545.52L1308.15,545.35L1333.48,545.23L1358.8,545.15L1384.12,545.09L1409.44,545.05L1434.76,545.03L1460.08,545.01L1485.4,545L1485.4,606.86L1460.08,606.87L1434.76,606.89L1409.44,606.91L1384.12,606.95L1358.8,607.01L1333.48,607.09L1308.15,607.21L1282.83,607.38L1257.51,607.6L1232.19,607.91L1206.87,608.31L1181.55,608.84L1156.23,609.5L1130.91,610.32L1105.59,611.32L1080.27,612.52L1054.95,613.93L1029.62,615.54L1004.3,617.36L978.98,619.36L953.66,621.53L928.34,623.83L903.02,626.23L877.7,628.67L852.38,631.11L827.06,633.51L801.74,635.81L776.42,637.98L751.1,639.99L725.78,641.8L700.45,643.41L675.13,644.82L649.81,646.02L624.49,647.02L599.17,647.84L573.85,648.5L548.53,649.03L523.21,649.43L497.89,649.74L472.57,649.96L447.25,650.13L421.93,650.25L396.6,650.33L371.28,650.39L345.96,650.43L320.64,650.45L295.32,650.47L270,650.48Z" fill="#44205c"/>
<path d="M270,556.12L295.32,556.19L320.64,556.31L345.96,556.48L371.28,556.74L396.6,557.13L421.93,557.7L447.25,558.51L472.57,559.64L497.89,561.2L523.21,563.29L548.53,566.05L573.85,569.62L599.17,574.14L624.49,579.77L649.81,586.63L675.13,594.82L700.45,604.42L725.78,615.45L751.1,627.86L776.42,641.56L801.74,656.4L827.06,672.14L852.38,688.51L877.7,705.22L903.02,721.92L928.34,738.29L953.66,754.03L978.98,768.87L1004.3,782.57L1029.62,794.98L1054.95,806.01L1080.27,815.61L1105.59,823.8L1130.91,830.66L1156.23,836.29L1181.55,840.81L1206.87,844.38L1232.19,847.14L1257.51,849.24L1282.83,850.79L1308.15,851.92L1333.48,852.73L1358.8,853.3L1384.12,853.69L1409.44,853.95L1434.76,854.13L1460.08,854.24L1485.4,854.31L1485.4,855L1460.08,854.93L1434.76,854.82L1409.44,854.65L1384.12,854.39L1358.8,854L1333.48,853.43L1308.15,852.62L1282.83,851.49L1257.51,849.93L1232.19,847.84L1206.87,845.08L1181.55,841.51L1156.23,836.98L1130.91,831.35L1105.59,824.5L1080.27,816.3L1054.95,806.7L1029.62,795.68L1004.3,783.27L978.98,769.56L953.66,754.73L928.34,738.99L903.02,722.61L877.7,705.91L852.38,689.21L827.06,672.83L801.74,657.09L776.42,642.26L751.1,628.56L725.78,616.14L700.45,605.12L675.13,595.52L649.81,587.32L624.49,580.47L599.17,574.84L573.85,570.31L548.53,566.74L523.21,563.98L497.89,561.89L472.57,560.34L447.25,559.2L421.93,558.39L396.6,557.83L371.28,557.44L345.96,557.17L320.64,557L295.32,556.89L270,556.82Z" fill="#0d2667"/>
<path d="M270,555.43L295.32,555.49L320.64,555.58L345.96,555.73L371.28,555.95L396.6,556.27L421.93,556.75L447.25,557.42L472.57,558.37L497.89,559.68L523.21,561.43L548.53,563.74L573.85,566.73L599.17,570.52L624.49,575.23L649.81,580.97L675.13,587.84L700.45,595.87L725.78,605.11L751.1,615.5L776.42,626.98L801.74,639.4L827.06,652.58L852.38,666.29L877.7,680.28L903.02,694.27L928.34,707.98L953.66,721.16L978.98,733.58L1004.3,745.06L1029.62,755.45L1054.95,764.69L1080.27,772.72L1105.59,779.59L1130.91,785.33L1156.23,790.04L1181.55,793.83L1206.87,796.82L1232.19,799.13L1257.51,800.88L1282.83,802.19L1308.15,803.14L1333.48,803.81L1358.8,804.29L1384.12,804.61L1409.44,804.83L1434.76,804.98L1460.08,805.07L1485.4,805.13L1485.4,805.83L1460.08,805.77L1434.76,805.67L1409.44,805.53L1384.12,805.31L1358.8,804.98L1333.48,804.51L1308.15,803.83L1282.83,802.88L1257.51,801.58L1232.19,799.83L1206.87,797.51L1181.55,794.53L1156.23,790.73L1130.91,786.02L1105.59,780.28L1080.27,773.42L1054.95,765.38L1029.62,756.15L1004.3,745.75L978.98,734.28L953.66,721.86L928.34,708.67L903.02,694.96L877.7,680.97L852.38,666.99L827.06,653.28L801.74,640.09L776.42,627.67L751.1,616.2L725.78,605.8L700.45,596.57L675.13,588.53L649.81,581.67L624.49,575.93L599.17,571.21L573.85,567.42L548.53,564.43L523.21,562.12L497.89,560.37L472.57,559.07L447.25,558.12L421.93,557.44L396.6,556.97L371.28,556.64L345.96,556.42L320.64,556.28L295.32,556.18L270,556.12Z" fill="#0d2667"/>
<path d="M270,545L295.32,545.03L320.64,545.08L345.96,545.15L371.28,545.26L396.6,545.43L421.93,545.67L447.25,546.01L472.57,546.49L497.89,547.15L523.21,548.04L548.53,549.21L573.85,550.72L599.17,552.64L624.49,555.02L649.81,557.93L675.13,561.4L700.45,565.46L725.78,570.13L751.1,575.39L776.42,581.2L801.74,587.48L827.06,594.15L852.38,601.09L877.7,608.17L903.02,615.24L928.34,622.18L953.66,628.85L978.98,635.13L1004.3,640.94L1029.62,646.2L1054.95,650.87L1080.27,654.93L1105.59,658.41L1130.91,661.31L1156.23,663.69L1181.55,665.61L1206.87,667.13L1232.19,668.29L1257.51,669.18L1282.83,669.84L1308.15,670.32L1333.48,670.66L1358.8,670.9L1384.12,671.07L1409.44,671.18L1434.76,671.25L1460.08,671.3L1485.4,671.33L1485.4,681.76L1460.08,681.73L1434.76,681.68L1409.44,681.61L1384.12,681.49L1358.8,681.33L1333.48,681.09L1308.15,680.75L1282.83,680.27L1257.51,679.61L1232.19,678.72L1206.87,677.55L1181.55,676.04L1156.23,674.12L1130.91,671.74L1105.59,668.83L1080.27,665.36L1054.95,661.29L1029.62,656.62L1004.3,651.36L978.98,645.56L953.66,639.27L928.34,632.61L903.02,625.67L877.7,618.59L852.38,611.52L827.06,604.58L801.74,597.91L776.42,591.63L751.1,585.82L725.78,580.56L700.45,575.89L675.13,571.82L649.81,568.35L624.49,565.45L599.17,563.06L573.85,561.14L548.53,559.63L523.21,558.46L497.89,557.58L472.57,556.92L447.25,556.44L421.93,556.09L396.6,555.85L371.28,555.69L345.96,555.58L320.64,555.5L295.32,555.46L270,555.43Z" fill="#0d2667"/>
<path d="M270,531.1L295.32,531.1L320.64,531.1L345.96,531.1L371.28,531.1L396.6,531.1L421.93,531.1L447.25,531.1L472.57,531.1L497.89,531.1L523.21,531.1L548.53,531.1L573.85,531.1L599.17,531.1L624.49,531.1L649.81,531.1L675.13,531.1L700.45,531.1L725.78,531.1L751.1,531.1L776.42,531.1L801.74,531.1L827.06,531.1L852.38,531.1L877.7,531.1L903.02,531.1L928.34,531.1L953.66,531.1L978.98,531.1L1004.3,531.1L1029.62,531.1L1054.95,531.1L1080.27,531.1L1105.59,531.1L1130.91,531.1L1156.23,531.1L1181.55,531.1L1206.87,531.1L1232.19,531.1L1257.51,531.1L1282.83,531.1L1308.15,531.1L1333.48,531.1L1358.8,531.1L1384.12,531.1L1409.44,531.1L1434.76,531.1L1460.08,531.1L1485.4,531.1L1485.4,545L1460.08,545L1434.76,545L1409.44,545L1384.12,545L1358.8,545L1333.48,545L1308.15,545L1282.83,545L1257.51,545L1232.19,545L1206.87,545L1181.55,545L1156.23,545L1130.91,545L1105.59,545L1080.27,545L1054.95,545L1029.62,545L1004.3,545L978.98,545L953.66,545L928.34,545L903.02,545L877.7,545L852.38,545L827.06,545L801.74,545L776.42,545L751.1,545L725.78,545L700.45,545L675.13,545L649.81,545L624.49,545L599.17,545L573.85,545L548.53,545L523.21,545L497.89,545L472.57,545L447.25,545L421.93,545L396.6,545L371.28,545L345.96,545L320.64,545L295.32,545L270,545Z" fill="#0d2667"/>
</g>
<rect x="238.5" y="531.1" width="31.5" height="25.72" fill="#1a2b55"/>
<rect x="238.5" y="588.62" width="31.5" height="102.17" fill="#37265b"/>
<rect x="238.5" y="722.59" width="31.5" height="11.12" fill="#6b1f58"/>
<rect x="238.5" y="765.51" width="31.5" height="63.95" fill="#8e1b49"/>
<rect x="238.5" y="861.26" width="31.5" height="7.65" fill="#a81b35"/>
<rect x="238.5" y="899.9" width="31.5" height="2.3" fill="#c0191f"/>
<rect x="1485.4" y="531.1" width="31.6" height="108.43" fill="#1a2b55"/>
<rect x="1485.4" y="671.33" width="31.6" height="67.42" fill="#37265b"/>
<rect x="1485.4" y="770.55" width="31.6" height="2.78" fill="#6b1f58"/>
<rect x="1485.4" y="805.13" width="31.6" height="17.38" fill="#8e1b49"/>
<rect x="1485.4" y="853.51" width="31.6" height="2.3" fill="#a81b35"/>
<rect x="1485.4" y="886" width="31.6" height="2.3" fill="#c0191f"/>
<rect x="1485.4" y="919.3" width="31.6" height="13.9" fill="#c0191f"/>
<g class="lab">
<text x="55.8" y="66">Grade 1 (n=90)</text>
<text x="55.8" y="152.5">Grade 2 (n=105)</text>
<text x="55.8" y="221.9">Grade 3 (n=47)</text>
<text x="55.8" y="305.8">Grade 4 (n=142)</text>
<text x="55.8" y="378">Grade 5 (n=10)</text>
<text x="55.8" y="414.8">Grade 6 (n=13)</text>
<text x="1543.8" y="66">Grade 1 (n=298)</text>
<text x="1543.8" y="243.5">Grade 2 (n=37)</text>
<text x="1543.8" y="287.2">Grade 3 (n=12)</text>
<text x="1543.8" y="326.9">Grade 4 (n=17)</text>
<text x="1543.8" y="360.9">Grade 5 (n=5)</text>
<text x="1543.8" y="396.2">Grade 6 (n=3)</text>
<text x="1543.8" y="439.5">Grade 7 (n=40)</text>
<text x="55.8" y="548.1">Grade 1 (n=37)</text>
<text x="55.8" y="648.5">Grade 2 (n=147)</text>
<text x="55.8" y="735.5">Grade 3 (n=16)</text>
<text x="55.8" y="806.3">Grade 4 (n=92)</text>
<text x="55.8" y="871.8">Grade 5 (n=11)</text>
<text x="55.8" y="909.5">Grade 6 (n=1)</text>
<text x="1543.8" y="548.3">Grade 1 (n=156)</text>
<text x="1543.8" y="713.6">Grade 2 (n=97)</text>
<text x="1543.8" y="778.9">Grade 3 (n=4)</text>
<text x="1543.8" y="821.9">Grade 4 (n=25)</text>
<text x="1543.8" y="862">Grade 5 (n=1)</text>
<text x="1543.8" y="896.8">Grade 6 (n=1)</text>
<text x="1543.8" y="936.5">Grade 7 (n=20)</text>
</g>
<text class="ttl" x="878" y="476.7" text-anchor="middle">(A) NR group (n=412)</text>
<text class="ttl" x="877.8" y="985.6" text-anchor="middle">(B) FNC group (n=304)</text>
<g fill="none" stroke="#000" stroke-width="2.7" stroke-linecap="round" stroke-linejoin="miter">
<path d="M142.7,35.7V4.3H16.9V323.8"/>
<path d="M16.9,622.2V1015.3H142.7V951.4"/>
<path d="M1630.9,35.7V4.3H1756.6V291.4"/>
<path d="M1756.6,685.2V1013.4H1630.9V981.9"/>
</g>
<text class="vt" style="font-size:32.8px" transform="translate(26,604.5) rotate(-90)">Baseline (P &lt;0.001)</text>
<text class="vt" style="font-size:33px" transform="translate(1747,301.5) rotate(90)">End of follow-up (P &lt;0.001)</text>
</svg>
</body>
</html>
